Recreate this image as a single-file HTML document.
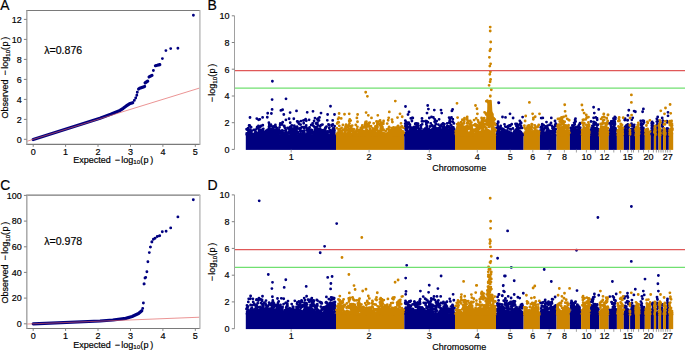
<!DOCTYPE html><html><head><meta charset="utf-8"><style>html,body{margin:0;padding:0;background:#fff;overflow:hidden}svg{display:block;}</style></head><body><svg width="685" height="350" viewBox="0 0 685 350" font-family="'Liberation Sans', sans-serif" fill="#000">
<style>text{stroke:#000;stroke-width:0.18px;paint-order:stroke}</style>
<rect width="685" height="350" fill="#fff"/>
<text x="0.2" y="9.6" font-size="13.8">A</text>
<clipPath id="clipA"><rect x="26.8" y="10.5" width="172.79999999999998" height="133.9"/></clipPath>
<g clip-path="url(#clipA)">
<path d="M33.2 139.5 L100.0 118.3 L110.7 114.3 L120.0 110.4 L123.2 108.3 L126.3 105.9 L129.5 103.8 L132.7 102.7M138.6 89.0 L139.6 88.3 L143.4 86.9 L144.6 86.5M145.1 82.9 L147.7 81.1M149.1 76.9 L152.0 75.4M155.4 65.7 L157.2 65.3 L159.8 64.6" fill="none" stroke="#000080" stroke-width="3.2" stroke-linecap="round" stroke-linejoin="round"/>
<path d="M134.3 100.4h0M135.7 98.0h0M136.8 95.2h0M137.3 92.2h0M153.4 70.5h0M162.4 58.6h0M165.9 50.6h0M170.7 48.6h0M177.9 48.2h0M193.4 15.2h0" fill="none" stroke="#000080" stroke-width="2.9" stroke-linecap="round"/>
<line x1="17.0" y1="144.35" x2="227.7" y2="79.37" stroke="#e05a5a" stroke-width="0.65"/>
</g>
<line x1="26.2" y1="10.5" x2="200.2" y2="10.5" stroke="#7a7a7a" stroke-width="1.1"/>
<line x1="26.2" y1="144.4" x2="200.2" y2="144.4" stroke="#7a7a7a" stroke-width="1.1"/>
<line x1="26.8" y1="10.5" x2="26.8" y2="144.4" stroke="#a8a8a8" stroke-width="1.5"/>
<line x1="199.9" y1="10.5" x2="199.9" y2="144.4" stroke="#bdbdbd" stroke-width="1.5"/>
<line x1="23.900000000000002" y1="139.3" x2="26.8" y2="139.3" stroke="#808080" stroke-width="1"/>
<text x="21.8" y="142.6" font-size="9" text-anchor="end">0</text>
<line x1="23.900000000000002" y1="119.4" x2="26.8" y2="119.4" stroke="#808080" stroke-width="1"/>
<text x="21.8" y="122.6" font-size="9" text-anchor="end">2</text>
<line x1="23.900000000000002" y1="99.4" x2="26.8" y2="99.4" stroke="#808080" stroke-width="1"/>
<text x="21.8" y="102.6" font-size="9" text-anchor="end">4</text>
<line x1="23.900000000000002" y1="79.4" x2="26.8" y2="79.4" stroke="#808080" stroke-width="1"/>
<text x="21.8" y="82.6" font-size="9" text-anchor="end">6</text>
<line x1="23.900000000000002" y1="59.4" x2="26.8" y2="59.4" stroke="#808080" stroke-width="1"/>
<text x="21.8" y="62.6" font-size="9" text-anchor="end">8</text>
<line x1="23.900000000000002" y1="39.4" x2="26.8" y2="39.4" stroke="#808080" stroke-width="1"/>
<text x="21.8" y="42.6" font-size="9" text-anchor="end">10</text>
<line x1="23.900000000000002" y1="19.4" x2="26.8" y2="19.4" stroke="#808080" stroke-width="1"/>
<text x="21.8" y="22.6" font-size="9" text-anchor="end">12</text>
<line x1="33.2" y1="144.4" x2="33.2" y2="146.8" stroke="#808080" stroke-width="1"/>
<text x="33.2" y="154.9" font-size="9" text-anchor="middle">0</text>
<line x1="65.6" y1="144.4" x2="65.6" y2="146.8" stroke="#808080" stroke-width="1"/>
<text x="65.6" y="154.9" font-size="9" text-anchor="middle">1</text>
<line x1="98.0" y1="144.4" x2="98.0" y2="146.8" stroke="#808080" stroke-width="1"/>
<text x="98.0" y="154.9" font-size="9" text-anchor="middle">2</text>
<line x1="130.5" y1="144.4" x2="130.5" y2="146.8" stroke="#808080" stroke-width="1"/>
<text x="130.5" y="154.9" font-size="9" text-anchor="middle">3</text>
<line x1="162.9" y1="144.4" x2="162.9" y2="146.8" stroke="#808080" stroke-width="1"/>
<text x="162.9" y="154.9" font-size="9" text-anchor="middle">4</text>
<line x1="195.3" y1="144.4" x2="195.3" y2="146.8" stroke="#808080" stroke-width="1"/>
<text x="195.3" y="154.9" font-size="9" text-anchor="middle">5</text>
<g><text x="73.16" y="162.70" font-size="9">Expected</text><text x="114.66" y="162.70" font-size="9">−</text><text x="121.20" y="162.70" font-size="9">log</text><text x="133.33" y="164.10" font-size="6.2">10</text><text x="140.14" y="162.70" font-size="9">(</text><text x="143.62" y="162.70" font-size="9">p</text><text x="150.25" y="162.70" font-size="9">)</text></g>
<g transform="translate(8.40 118.40) rotate(-90)"><text x="0.00" y="0.00" font-size="9">Observed</text><text x="43.00" y="0.00" font-size="9">−</text><text x="49.54" y="0.00" font-size="9">log</text><text x="61.67" y="1.40" font-size="6.2">10</text><text x="68.48" y="0.00" font-size="9">(</text><text x="71.96" y="0.00" font-size="9">p</text><text x="78.59" y="0.00" font-size="9">)</text></g>
<text x="44.2" y="53.9" font-size="10.6">λ=0.876</text>
<text x="0.2" y="189.6" font-size="13.8">C</text>
<clipPath id="clipC"><rect x="26.8" y="195.1" width="172.79999999999998" height="133.4"/></clipPath>
<g clip-path="url(#clipC)">
<path d="M33.2 323.8 L100.0 321.0 L112.8 320.0 L125.7 318.4 L132.1 316.5 L138.5 313.5 L141.8 310.7" fill="none" stroke="#000080" stroke-width="3.2" stroke-linecap="round" stroke-linejoin="round"/>
<path d="M142.7 308.4h0M143.4 303.0h0M144.0 284.0h0M144.2 283.9h0M145.0 278.0h0M145.7 277.4h0M146.9 271.7h0M147.9 261.7h0M149.3 252.6h0M150.4 247.1h0M151.9 242.0h0M150.5 247.1h0M151.8 241.9h0M153.4 239.2h0M155.1 238.3h0M157.3 236.5h0M159.7 235.8h0M162.3 231.8h0M166.1 231.3h0M170.7 227.9h0M177.9 216.9h0M193.3 199.8h0" fill="none" stroke="#000080" stroke-width="2.9" stroke-linecap="round"/>
<line x1="17.0" y1="324.44" x2="227.7" y2="316.10" stroke="#e05a5a" stroke-width="0.65"/>
</g>
<line x1="26.2" y1="195.1" x2="200.2" y2="195.1" stroke="#7a7a7a" stroke-width="1.1"/>
<line x1="26.2" y1="328.5" x2="200.2" y2="328.5" stroke="#7a7a7a" stroke-width="1.1"/>
<line x1="26.8" y1="195.1" x2="26.8" y2="328.5" stroke="#a8a8a8" stroke-width="1.5"/>
<line x1="199.9" y1="195.1" x2="199.9" y2="328.5" stroke="#bdbdbd" stroke-width="1.5"/>
<line x1="23.900000000000002" y1="323.8" x2="26.8" y2="323.8" stroke="#808080" stroke-width="1"/>
<text x="21.8" y="327.1" font-size="9" text-anchor="end">0</text>
<line x1="23.900000000000002" y1="298.1" x2="26.8" y2="298.1" stroke="#808080" stroke-width="1"/>
<text x="21.8" y="301.4" font-size="9" text-anchor="end">20</text>
<line x1="23.900000000000002" y1="272.4" x2="26.8" y2="272.4" stroke="#808080" stroke-width="1"/>
<text x="21.8" y="275.7" font-size="9" text-anchor="end">40</text>
<line x1="23.900000000000002" y1="246.8" x2="26.8" y2="246.8" stroke="#808080" stroke-width="1"/>
<text x="21.8" y="250.0" font-size="9" text-anchor="end">60</text>
<line x1="23.900000000000002" y1="221.1" x2="26.8" y2="221.1" stroke="#808080" stroke-width="1"/>
<text x="21.8" y="224.3" font-size="9" text-anchor="end">80</text>
<line x1="23.900000000000002" y1="195.4" x2="26.8" y2="195.4" stroke="#808080" stroke-width="1"/>
<text x="21.8" y="198.7" font-size="9" text-anchor="end">100</text>
<line x1="33.2" y1="328.5" x2="33.2" y2="330.9" stroke="#808080" stroke-width="1"/>
<text x="33.2" y="339.0" font-size="9" text-anchor="middle">0</text>
<line x1="65.6" y1="328.5" x2="65.6" y2="330.9" stroke="#808080" stroke-width="1"/>
<text x="65.6" y="339.0" font-size="9" text-anchor="middle">1</text>
<line x1="98.0" y1="328.5" x2="98.0" y2="330.9" stroke="#808080" stroke-width="1"/>
<text x="98.0" y="339.0" font-size="9" text-anchor="middle">2</text>
<line x1="130.5" y1="328.5" x2="130.5" y2="330.9" stroke="#808080" stroke-width="1"/>
<text x="130.5" y="339.0" font-size="9" text-anchor="middle">3</text>
<line x1="162.9" y1="328.5" x2="162.9" y2="330.9" stroke="#808080" stroke-width="1"/>
<text x="162.9" y="339.0" font-size="9" text-anchor="middle">4</text>
<line x1="195.3" y1="328.5" x2="195.3" y2="330.9" stroke="#808080" stroke-width="1"/>
<text x="195.3" y="339.0" font-size="9" text-anchor="middle">5</text>
<g><text x="73.16" y="347.90" font-size="9">Expected</text><text x="114.66" y="347.90" font-size="9">−</text><text x="121.20" y="347.90" font-size="9">log</text><text x="133.33" y="349.30" font-size="6.2">10</text><text x="140.14" y="347.90" font-size="9">(</text><text x="143.62" y="347.90" font-size="9">p</text><text x="150.25" y="347.90" font-size="9">)</text></g>
<g transform="translate(8.40 303.40) rotate(-90)"><text x="0.00" y="0.00" font-size="9">Observed</text><text x="43.00" y="0.00" font-size="9">−</text><text x="49.54" y="0.00" font-size="9">log</text><text x="61.67" y="1.40" font-size="6.2">10</text><text x="68.48" y="0.00" font-size="9">(</text><text x="71.96" y="0.00" font-size="9">p</text><text x="78.59" y="0.00" font-size="9">)</text></g>
<text x="44.2" y="245.0" font-size="10.6">λ=0.978</text>
<text x="207.6" y="9.8" font-size="14">B</text>
<rect x="245.8" y="134.1" width="90.2" height="15.8" fill="#000080"/>
<rect x="336.0" y="134.1" width="68.3" height="15.8" fill="#CD8500"/>
<rect x="404.3" y="134.1" width="50.7" height="15.8" fill="#000080"/>
<rect x="455.0" y="134.1" width="41.0" height="15.8" fill="#CD8500"/>
<rect x="496.0" y="134.1" width="27.6" height="15.8" fill="#000080"/>
<rect x="523.6" y="134.1" width="16.3" height="15.8" fill="#CD8500"/>
<rect x="539.9" y="134.1" width="16.6" height="15.8" fill="#000080"/>
<rect x="556.5" y="134.1" width="13.4" height="15.8" fill="#CD8500"/>
<rect x="569.9" y="134.1" width="11.2" height="15.8" fill="#000080"/>
<rect x="581.1" y="134.1" width="8.9" height="15.8" fill="#CD8500"/>
<rect x="590.0" y="134.1" width="9.2" height="15.8" fill="#000080"/>
<rect x="599.2" y="134.1" width="9.5" height="15.8" fill="#CD8500"/>
<rect x="608.7" y="134.1" width="8.2" height="15.8" fill="#000080"/>
<rect x="616.9" y="134.1" width="6.9" height="15.8" fill="#CD8500"/>
<rect x="623.8" y="134.1" width="5.5" height="15.8" fill="#000080"/>
<rect x="629.3" y="134.1" width="0.8" height="15.8" fill="#CD8500"/>
<rect x="630.1" y="134.1" width="4.9" height="15.8" fill="#000080"/>
<rect x="635.0" y="134.1" width="4.9" height="15.8" fill="#CD8500"/>
<rect x="639.9" y="134.1" width="4.9" height="15.8" fill="#000080"/>
<rect x="644.8" y="134.1" width="6.0" height="15.8" fill="#CD8500"/>
<rect x="650.8" y="134.1" width="3.1" height="15.8" fill="#000080"/>
<rect x="653.9" y="134.1" width="2.2" height="15.8" fill="#CD8500"/>
<rect x="656.1" y="134.1" width="2.4" height="15.8" fill="#000080"/>
<rect x="658.5" y="134.1" width="2.6" height="15.8" fill="#CD8500"/>
<rect x="661.1" y="134.1" width="2.0" height="15.8" fill="#000080"/>
<rect x="663.1" y="134.1" width="2.9" height="15.8" fill="#CD8500"/>
<rect x="666.0" y="134.1" width="2.8" height="15.8" fill="#000080"/>
<rect x="668.8" y="134.1" width="4.4" height="15.8" fill="#CD8500"/>
<path d="M321.8 134.8h0M269.1 129.2h0M286.4 132.5h0M316.6 130.9h0M248.9 135.0h0M284.9 127.7h0M246.6 129.2h0M310.6 132.9h0M330.5 134.3h0M249.1 125.5h0M294.6 135.3h0M280.3 123.4h0M284.0 134.4h0M266.1 135.3h0M290.5 132.9h0M266.9 134.3h0M287.3 134.4h0M248.3 133.9h0M295.9 127.6h0M262.9 131.0h0M257.2 127.0h0M310.6 133.7h0M329.7 130.1h0M320.3 133.1h0M273.4 130.6h0M324.9 131.6h0M291.4 127.4h0M249.5 131.6h0M317.4 134.2h0M261.8 133.1h0M309.0 132.0h0M279.7 130.6h0M291.6 132.9h0M292.8 128.9h0M290.0 133.3h0M250.3 135.3h0M333.9 130.2h0M281.4 131.6h0M291.1 134.6h0M315.0 118.1h0M323.0 132.1h0M292.1 134.3h0M297.8 122.3h0M270.4 132.8h0M331.6 132.0h0M316.1 135.4h0M325.3 128.0h0M318.4 129.6h0M296.4 132.3h0M251.4 133.0h0M297.1 126.6h0M291.3 134.5h0M278.2 132.6h0M294.3 133.6h0M300.9 131.2h0M248.9 132.8h0M262.2 134.3h0M323.0 131.6h0M317.3 128.5h0M269.1 128.1h0M306.3 127.5h0M247.9 135.0h0M313.6 135.4h0M256.1 134.2h0M277.1 131.2h0M260.6 135.1h0M261.4 132.2h0M309.7 134.0h0M275.1 132.8h0M248.5 132.7h0M283.9 133.3h0M256.1 134.5h0M291.8 125.5h0M300.3 134.4h0M248.3 128.1h0M259.4 135.3h0M260.7 130.0h0M306.8 130.2h0M266.0 132.0h0M317.4 119.5h0M266.3 132.3h0M281.5 130.9h0M275.0 131.7h0M251.6 131.1h0M332.5 133.9h0M273.7 126.5h0M274.0 127.0h0M312.6 123.4h0M268.9 133.1h0M324.6 135.4h0M319.3 135.2h0M297.2 121.3h0M323.6 134.6h0M309.1 119.8h0M280.0 132.4h0M264.7 133.6h0M284.9 130.6h0M255.7 134.5h0M272.8 130.7h0M275.4 132.4h0M326.5 126.6h0M264.3 135.3h0M334.2 133.7h0M276.6 128.9h0M306.4 134.4h0M329.4 127.6h0M324.9 133.6h0M289.5 130.4h0M267.3 117.2h0M253.9 129.9h0M327.5 134.6h0M314.0 134.4h0M321.3 131.5h0M276.7 133.4h0M323.6 133.9h0M331.3 131.4h0M258.4 126.0h0M255.7 132.0h0M252.9 135.2h0M316.5 126.8h0M276.7 127.8h0M316.0 131.3h0M297.2 133.4h0M253.7 134.3h0M325.7 134.1h0M328.7 131.8h0M271.1 132.8h0M320.1 128.8h0M306.1 135.4h0M256.6 135.0h0M250.0 126.1h0M334.3 134.2h0M256.7 133.1h0M267.9 134.6h0M255.6 129.6h0M280.1 125.0h0M327.3 120.3h0M269.0 133.9h0M255.3 132.6h0M249.9 130.9h0M333.8 135.4h0M299.5 133.9h0M274.3 132.8h0M327.7 135.1h0M332.7 120.4h0M265.6 134.9h0M333.6 131.3h0M307.6 132.1h0M269.5 130.8h0M273.8 132.1h0M253.6 134.2h0M333.9 134.0h0M304.4 132.9h0M330.1 131.0h0M273.7 133.3h0M274.6 133.7h0M325.9 127.3h0M276.2 133.9h0M297.9 132.0h0M268.2 131.5h0M268.1 135.3h0M295.5 135.1h0M253.1 135.1h0M272.3 131.1h0M290.3 128.7h0M260.1 126.9h0M317.2 132.4h0M330.9 135.1h0M315.5 134.6h0M319.5 117.4h0M255.9 133.8h0M328.2 132.3h0M325.9 133.9h0M327.4 134.8h0M274.5 135.3h0M317.9 125.4h0M321.2 125.2h0M307.8 129.5h0M284.9 134.6h0M310.0 134.7h0M268.9 130.7h0M332.1 135.1h0M295.3 128.3h0M322.2 132.1h0M281.6 132.8h0M269.4 133.6h0M303.9 135.3h0M297.2 133.1h0M278.0 135.1h0M257.5 134.8h0M320.2 134.1h0M282.1 133.2h0M267.2 131.3h0M293.5 135.4h0M304.1 132.4h0M307.5 132.9h0M267.6 129.8h0M289.0 132.5h0M283.1 134.3h0M327.1 131.9h0M270.9 124.7h0M250.7 130.9h0M291.9 135.1h0M260.6 126.4h0M325.0 129.2h0M308.0 133.8h0M279.5 127.3h0M311.9 130.2h0M322.6 131.5h0M331.8 125.7h0M262.1 131.8h0M265.8 134.2h0M313.8 131.8h0M307.1 135.2h0M277.4 130.0h0M261.1 132.3h0M250.0 129.8h0M318.3 118.3h0M270.2 131.2h0M331.8 124.9h0M315.4 134.8h0M305.1 127.5h0M286.0 130.2h0M332.8 124.3h0M317.8 133.3h0M261.1 133.0h0M257.6 133.7h0M331.8 125.1h0M299.9 134.9h0M256.9 133.2h0M268.5 133.9h0M246.8 129.5h0M285.5 134.5h0M302.2 135.3h0M320.7 131.4h0M271.7 134.4h0M270.7 132.1h0M268.7 131.6h0M316.8 130.5h0M333.1 128.3h0M290.1 132.0h0M314.8 127.1h0M280.5 131.8h0M256.0 134.0h0M256.9 128.3h0M294.9 129.5h0M314.1 121.0h0M258.6 119.8h0M297.4 132.4h0M291.2 133.8h0M293.4 133.5h0M285.8 135.4h0M273.5 132.8h0M316.1 133.2h0M290.2 130.5h0M280.0 130.9h0M246.7 134.4h0M299.6 134.0h0M320.2 126.2h0M334.2 132.3h0M320.7 132.8h0M312.7 133.2h0M261.6 133.8h0M293.7 131.3h0M246.7 133.5h0M284.3 133.3h0M323.1 133.2h0M311.7 131.6h0M313.0 125.6h0M312.8 132.5h0M304.1 131.0h0M282.6 131.1h0M302.8 131.2h0M316.0 123.5h0M314.7 127.4h0M300.3 128.2h0M269.9 133.6h0M324.2 130.1h0M259.9 132.0h0M289.5 127.7h0M250.4 132.7h0M312.7 132.3h0M278.0 133.1h0M248.2 130.8h0M330.6 132.4h0M282.2 130.4h0M300.2 130.4h0M264.9 134.4h0M270.3 126.1h0M320.3 135.1h0M279.2 132.2h0M312.0 132.3h0M304.5 134.6h0M318.9 130.0h0M300.7 134.1h0M296.3 134.3h0M316.7 134.6h0M275.7 126.8h0M332.2 134.3h0M321.5 130.1h0M326.4 135.3h0M274.6 131.2h0M314.2 133.0h0M263.3 128.8h0M261.1 131.2h0M285.9 119.9h0M311.2 124.9h0M269.7 131.4h0M258.7 132.2h0M310.1 134.8h0M313.3 133.5h0M310.3 134.2h0M273.6 130.0h0M281.7 134.9h0M255.3 132.5h0M251.3 134.5h0M325.5 131.5h0M249.5 134.4h0M318.9 130.2h0M301.0 121.1h0M321.0 133.6h0M308.0 134.9h0M282.0 135.0h0M280.0 132.5h0M267.0 134.6h0M287.6 128.0h0M265.3 131.7h0M275.8 130.0h0M327.3 131.5h0M317.4 135.2h0M274.8 127.0h0M298.0 133.3h0M282.0 124.6h0M313.9 126.3h0M327.7 134.7h0M259.3 135.3h0M251.5 130.7h0M258.0 133.4h0M321.2 132.7h0M249.6 125.3h0M321.2 135.1h0M270.7 135.2h0M254.5 134.9h0M303.1 135.3h0M307.5 129.6h0M305.4 127.4h0M302.6 133.3h0M303.5 120.4h0M251.8 134.2h0M299.0 123.7h0M300.3 133.6h0M292.9 131.9h0M277.8 135.1h0M264.1 133.1h0M284.1 126.3h0M309.9 130.7h0M310.6 129.6h0M268.8 129.4h0M259.8 119.3h0M322.5 124.6h0M251.1 127.2h0M318.8 135.0h0M279.4 132.7h0M250.0 117.5h0M285.9 132.2h0M281.6 134.8h0M324.9 130.1h0M293.1 135.3h0M317.6 135.0h0M249.4 135.0h0M311.6 133.3h0M258.0 133.8h0M318.2 128.6h0M273.4 127.1h0M268.2 133.0h0M275.8 131.9h0M316.1 133.6h0M298.4 122.0h0M304.5 134.9h0M334.3 132.9h0M320.7 130.0h0M294.1 130.2h0M320.4 125.7h0M260.4 133.9h0M292.8 133.4h0M277.1 135.0h0M250.3 131.7h0M304.3 128.2h0M273.0 133.8h0M275.4 133.5h0M291.0 129.5h0M259.6 132.2h0M275.4 124.9h0M252.5 133.7h0M289.1 118.7h0M329.0 124.9h0M319.0 120.4h0M328.5 124.3h0M258.4 128.5h0M297.6 132.2h0M309.0 128.8h0M278.6 129.5h0M303.7 123.2h0M287.7 133.2h0M293.8 118.7h0M259.6 134.6h0M296.5 130.4h0M262.8 125.2h0M311.2 133.1h0M255.2 135.2h0M270.0 132.0h0M269.7 134.9h0M293.2 131.1h0M252.9 135.1h0M303.6 127.2h0M323.1 134.6h0M279.2 135.3h0M309.6 127.3h0M325.7 134.0h0M323.4 131.5h0M284.3 125.8h0M294.9 130.6h0M317.4 123.0h0M318.8 129.9h0M264.3 134.1h0M315.0 129.5h0M289.7 132.3h0M325.0 133.2h0M298.4 128.6h0M322.2 135.2h0M263.3 132.8h0M307.9 133.9h0M257.1 135.4h0M325.4 133.9h0M332.8 129.5h0M297.3 132.1h0M293.2 132.0h0M319.3 132.1h0M282.7 122.2h0M273.8 131.1h0M291.5 133.9h0M295.3 131.6h0M261.0 126.0h0M260.5 130.1h0M261.9 129.8h0M305.6 119.2h0M305.6 120.2h0M306.3 120.8h0M305.9 126.5h0M305.4 127.1h0M306.2 125.3h0M283.7 133.1h0M269.3 124.8h0M271.2 129.0h0M269.6 125.7h0M269.0 126.7h0M268.9 122.7h0M290.2 131.4h0M290.5 130.7h0M290.1 132.7h0M289.0 128.8h0M290.3 126.8h0M290.2 122.7h0M300.6 124.6h0M301.9 127.2h0M300.4 131.1h0M300.2 124.4h0M301.1 130.8h0M300.7 128.4h0M317.4 122.6h0M317.3 123.8h0M317.1 123.9h0M315.9 128.5h0M316.8 131.1h0M322.5 132.5h0M292.6 129.2h0M292.6 128.9h0M326.4 131.6h0M325.6 128.5h0M326.3 133.3h0M334.6 126.1h0M334.2 128.7h0M334.3 129.4h0M266.0 130.9h0M267.1 131.8h0M296.5 126.8h0M296.1 129.3h0M296.1 130.0h0M271.5 130.5h0M271.8 128.8h0M271.2 129.8h0M271.2 125.7h0M307.8 132.8h0M308.7 129.2h0M308.4 128.4h0M290.1 132.7h0M290.3 132.6h0M294.5 128.0h0M294.4 127.0h0M294.6 127.9h0M294.3 125.6h0M248.4 131.0h0M248.5 132.9h0M334.5 130.8h0M334.3 131.1h0M259.0 130.9h0M259.1 131.1h0M310.9 132.6h0M270.8 133.3h0M329.7 131.0h0M329.2 127.9h0M329.9 130.4h0M330.1 130.1h0M330.0 130.8h0M323.3 130.1h0M323.3 130.6h0M293.7 129.4h0M293.6 133.0h0M426.8 126.0h0M409.9 124.5h0M428.1 135.1h0M427.9 122.2h0M413.0 131.9h0M426.0 131.6h0M441.6 124.6h0M412.3 132.2h0M453.0 134.6h0M416.0 130.7h0M415.6 127.2h0M448.3 132.4h0M410.0 134.9h0M412.4 135.1h0M420.8 133.1h0M405.6 133.8h0M426.9 132.1h0M419.9 128.7h0M420.4 131.1h0M413.5 128.5h0M427.0 132.1h0M431.5 132.4h0M420.6 131.6h0M452.0 126.8h0M436.4 131.4h0M420.7 129.0h0M427.8 131.0h0M424.4 132.1h0M415.7 131.6h0M414.8 134.0h0M417.0 130.9h0M449.7 127.9h0M421.1 128.4h0M421.9 121.3h0M434.4 133.2h0M425.1 130.1h0M447.1 127.8h0M416.0 133.7h0M439.5 132.9h0M413.6 129.9h0M449.5 133.0h0M434.8 119.5h0M446.5 127.9h0M408.2 134.2h0M423.9 130.7h0M419.4 129.3h0M444.9 132.6h0M425.1 134.9h0M431.3 134.6h0M453.8 128.9h0M412.0 128.5h0M431.7 132.6h0M439.6 130.4h0M451.5 117.5h0M412.7 134.3h0M412.8 118.0h0M410.8 118.3h0M411.3 131.1h0M421.4 134.7h0M439.7 127.6h0M411.7 133.5h0M413.5 133.2h0M429.5 134.1h0M450.6 132.1h0M431.3 134.9h0M412.0 131.3h0M411.7 133.2h0M422.2 124.3h0M428.4 135.1h0M448.8 131.7h0M415.1 129.1h0M405.2 123.6h0M407.0 129.5h0M414.3 126.9h0M445.2 127.5h0M410.4 128.1h0M410.1 132.9h0M454.1 129.1h0M437.2 131.8h0M412.0 130.0h0M422.2 133.1h0M425.3 128.5h0M432.1 133.1h0M408.1 134.3h0M405.9 134.1h0M427.5 129.9h0M433.0 130.7h0M445.2 135.1h0M405.3 127.0h0M443.8 132.6h0M447.5 132.8h0M437.6 129.5h0M443.5 123.7h0M407.2 131.1h0M439.0 132.4h0M433.8 131.7h0M446.5 133.3h0M436.6 134.0h0M412.3 132.6h0M411.3 135.3h0M428.3 133.7h0M408.2 135.3h0M453.4 127.5h0M428.2 132.6h0M409.7 130.8h0M438.3 131.6h0M436.7 121.1h0M425.2 131.5h0M430.8 123.4h0M441.2 132.2h0M408.2 132.6h0M447.8 131.0h0M409.7 133.1h0M449.8 134.9h0M437.3 134.8h0M430.3 135.0h0M416.5 123.4h0M435.2 133.6h0M432.6 131.2h0M406.9 133.0h0M418.6 130.9h0M426.6 130.6h0M454.2 133.9h0M453.0 133.5h0M431.3 132.2h0M413.5 133.9h0M427.4 129.4h0M413.9 131.1h0M437.5 131.9h0M437.9 128.4h0M438.8 132.8h0M428.5 130.9h0M420.1 130.5h0M412.2 135.1h0M449.1 117.6h0M417.7 126.7h0M444.0 126.4h0M419.9 131.6h0M454.3 134.9h0M427.0 126.0h0M450.0 128.9h0M411.1 131.5h0M431.5 116.9h0M435.7 128.1h0M427.8 135.1h0M418.1 135.4h0M439.1 119.3h0M410.4 131.3h0M434.9 129.7h0M439.0 130.4h0M427.0 122.4h0M431.1 130.7h0M438.5 131.0h0M407.6 134.4h0M407.0 134.8h0M420.0 131.4h0M412.9 127.8h0M447.7 134.6h0M422.4 134.9h0M432.8 129.6h0M411.6 133.9h0M417.2 131.1h0M418.0 125.8h0M406.0 122.0h0M418.9 130.7h0M426.5 132.2h0M414.1 127.2h0M406.6 128.2h0M445.7 130.4h0M446.9 132.6h0M422.5 133.2h0M453.9 123.4h0M416.3 127.7h0M423.0 121.3h0M420.8 125.4h0M417.7 134.2h0M453.4 129.6h0M410.2 131.8h0M449.4 129.7h0M405.0 127.9h0M443.3 133.6h0M454.2 129.4h0M444.4 124.1h0M423.7 129.6h0M442.9 135.2h0M447.7 132.4h0M447.3 134.7h0M448.8 130.3h0M426.5 129.4h0M409.8 131.8h0M433.4 134.0h0M422.6 134.4h0M434.3 130.3h0M426.3 124.3h0M425.8 131.4h0M435.9 128.5h0M411.9 121.0h0M419.4 134.7h0M436.5 130.7h0M418.3 134.3h0M418.0 130.9h0M410.2 126.6h0M412.5 127.9h0M443.6 129.2h0M449.6 121.2h0M437.6 135.3h0M443.0 123.5h0M442.0 132.4h0M444.7 133.8h0M453.0 132.8h0M433.7 135.3h0M442.8 134.7h0M429.3 118.0h0M416.4 126.3h0M444.7 135.3h0M409.1 132.8h0M449.5 129.9h0M435.1 135.0h0M407.0 133.3h0M407.1 135.0h0M420.1 133.6h0M435.6 131.6h0M447.3 126.0h0M436.0 134.5h0M417.3 125.1h0M453.8 130.8h0M439.6 130.4h0M454.0 133.6h0M420.9 126.6h0M405.1 133.6h0M448.1 132.2h0M412.2 127.8h0M412.9 134.0h0M414.9 133.9h0M432.3 134.5h0M447.2 123.3h0M420.6 130.6h0M415.3 123.6h0M415.6 135.2h0M439.6 127.7h0M415.8 133.6h0M430.2 130.4h0M427.0 127.6h0M408.4 135.0h0M430.8 134.1h0M432.4 129.2h0M452.1 135.4h0M431.6 132.4h0M416.9 134.4h0M434.9 134.2h0M418.0 123.6h0M419.1 133.3h0M405.4 135.3h0M453.3 127.9h0M408.7 135.2h0M420.0 132.4h0M448.0 134.0h0M414.5 134.4h0M435.7 123.7h0M438.0 129.7h0M453.3 135.3h0M416.2 135.3h0M446.4 132.2h0M405.3 120.6h0M405.7 134.7h0M450.1 134.7h0M431.6 135.0h0M405.3 134.3h0M417.7 133.8h0M448.2 131.5h0M431.3 131.7h0M413.8 133.8h0M424.4 132.2h0M415.2 123.9h0M407.5 135.3h0M415.7 133.5h0M448.5 132.9h0M434.3 129.0h0M448.4 126.6h0M439.0 135.1h0M425.2 134.7h0M418.3 133.0h0M414.5 135.2h0M452.3 129.3h0M406.0 123.5h0M414.3 131.2h0M431.3 131.8h0M409.3 134.5h0M407.5 132.2h0M448.9 126.3h0M444.5 135.3h0M406.9 126.4h0M428.4 131.0h0M445.4 134.5h0M445.1 131.3h0M452.9 121.9h0M448.1 130.0h0M421.6 135.1h0M430.3 132.2h0M445.3 133.1h0M446.8 131.1h0M451.5 132.5h0M454.1 133.2h0M423.6 131.3h0M410.2 130.6h0M434.6 129.7h0M408.6 127.3h0M433.9 132.7h0M442.6 135.1h0M435.9 124.0h0M451.6 128.3h0M430.2 132.4h0M438.4 124.6h0M434.1 133.8h0M446.7 128.2h0M413.2 134.7h0M440.3 129.7h0M429.1 128.9h0M452.4 133.0h0M419.1 134.0h0M409.1 135.3h0M437.7 130.6h0M441.5 134.2h0M423.3 134.5h0M443.4 130.4h0M444.9 132.4h0M437.8 132.3h0M432.8 126.5h0M451.1 131.3h0M405.8 135.2h0M420.3 135.2h0M435.5 131.6h0M405.7 129.8h0M416.7 125.2h0M422.0 118.5h0M440.2 126.2h0M430.2 135.3h0M454.1 132.9h0M424.5 134.1h0M405.1 134.5h0M435.6 131.6h0M446.4 134.5h0M451.3 134.2h0M453.0 129.9h0M446.4 132.6h0M440.3 130.8h0M430.2 132.8h0M421.6 133.8h0M408.8 122.6h0M442.0 126.6h0M426.2 134.5h0M430.1 126.5h0M429.8 131.9h0M453.9 134.5h0M419.0 128.6h0M439.9 133.3h0M432.2 125.3h0M422.7 133.7h0M448.8 131.5h0M416.1 129.4h0M437.4 135.3h0M448.3 133.9h0M454.2 134.5h0M417.4 127.4h0M445.5 135.3h0M412.4 134.8h0M413.4 133.0h0M432.1 134.9h0M443.8 130.1h0M407.4 135.1h0M441.6 132.2h0M434.4 134.3h0M449.4 134.8h0M451.2 125.2h0M409.0 133.0h0M426.7 127.0h0M426.1 133.3h0M440.9 129.3h0M418.1 132.6h0M407.5 134.6h0M452.8 119.2h0M434.3 135.1h0M433.4 117.5h0M412.1 117.9h0M446.5 129.1h0M415.0 134.8h0M416.4 126.8h0M416.6 128.0h0M416.2 127.2h0M411.9 130.9h0M411.8 132.9h0M422.6 131.2h0M426.2 121.1h0M426.6 121.3h0M426.3 122.7h0M425.5 121.2h0M425.8 130.1h0M405.4 132.9h0M431.3 130.2h0M431.7 130.4h0M410.7 132.0h0M410.0 130.0h0M407.0 127.3h0M406.5 130.2h0M405.5 125.4h0M405.9 126.9h0M442.7 130.1h0M442.3 130.4h0M406.9 127.4h0M407.3 125.0h0M407.2 124.5h0M407.7 123.3h0M407.6 122.8h0M442.9 128.0h0M443.5 132.9h0M443.3 127.0h0M434.7 130.6h0M435.1 125.9h0M434.6 121.8h0M434.8 129.4h0M434.5 127.9h0M451.5 132.4h0M451.7 128.9h0M449.4 122.5h0M450.0 123.3h0M449.7 118.8h0M450.3 121.6h0M450.0 120.7h0M449.8 122.9h0M512.0 134.7h0M509.9 134.4h0M508.9 125.6h0M504.5 124.3h0M515.3 134.8h0M514.3 133.0h0M508.1 131.7h0M502.4 133.5h0M508.8 134.4h0M518.2 125.8h0M513.1 118.0h0M519.5 134.0h0M521.5 135.1h0M514.6 132.9h0M510.3 125.8h0M518.7 128.0h0M520.7 132.4h0M500.7 134.2h0M518.4 130.1h0M497.4 133.1h0M502.5 133.0h0M501.0 135.1h0M506.6 131.5h0M502.4 128.6h0M503.7 131.4h0M500.6 134.0h0M504.0 129.6h0M514.8 130.6h0M514.1 131.9h0M499.2 130.5h0M510.3 129.1h0M499.5 128.2h0M513.7 135.2h0M522.6 133.8h0M508.5 133.8h0M511.4 133.6h0M522.0 134.4h0M520.9 134.0h0M505.5 117.4h0M520.3 128.1h0M522.2 135.3h0M505.5 133.3h0M501.0 128.4h0M522.2 135.3h0M513.4 135.3h0M507.7 131.8h0M518.1 127.9h0M512.9 135.3h0M506.9 127.0h0M511.8 134.8h0M506.7 135.3h0M502.3 132.4h0M518.5 131.6h0M510.9 132.7h0M496.8 134.5h0M503.2 132.7h0M499.3 131.1h0M510.2 132.8h0M498.0 128.8h0M500.7 126.0h0M518.0 124.7h0M521.0 125.9h0M506.2 135.0h0M505.3 131.6h0M519.6 130.8h0M505.0 134.4h0M505.3 126.6h0M516.3 135.0h0M512.0 133.9h0M511.5 135.1h0M508.3 128.2h0M516.9 133.5h0M509.1 132.2h0M514.5 134.6h0M496.6 127.8h0M513.8 133.8h0M519.3 134.7h0M503.0 134.8h0M500.2 132.8h0M510.0 125.3h0M512.7 133.3h0M511.0 129.5h0M514.6 131.0h0M504.0 133.0h0M514.1 134.8h0M521.8 133.4h0M517.3 134.0h0M500.7 132.9h0M513.2 133.3h0M505.8 130.6h0M500.7 134.3h0M514.5 131.6h0M509.5 125.5h0M517.7 133.7h0M515.7 131.1h0M518.3 135.1h0M514.3 133.3h0M496.6 135.1h0M498.6 135.3h0M519.3 135.0h0M498.2 132.0h0M514.6 133.0h0M506.0 130.8h0M522.1 127.9h0M506.0 133.1h0M518.6 133.1h0M499.3 132.4h0M514.1 135.4h0M516.8 134.7h0M502.2 131.5h0M514.3 135.1h0M522.5 134.7h0M505.2 132.3h0M512.9 128.4h0M517.4 130.8h0M497.8 132.8h0M522.8 134.7h0M497.2 131.2h0M499.4 134.7h0M513.9 134.1h0M511.7 124.2h0M520.9 132.4h0M520.3 134.8h0M502.8 131.0h0M501.2 129.1h0M508.7 131.6h0M521.3 134.9h0M506.3 134.5h0M503.7 131.1h0M504.5 135.0h0M517.9 133.4h0M520.9 132.0h0M518.4 134.8h0M522.6 117.1h0M499.3 133.9h0M508.7 132.2h0M508.1 126.1h0M508.1 133.3h0M506.9 130.7h0M506.9 131.7h0M517.0 131.9h0M517.2 127.8h0M516.5 129.2h0M498.2 121.7h0M498.1 127.3h0M497.3 124.0h0M498.3 122.6h0M497.6 125.5h0M506.0 130.9h0M506.7 132.5h0M515.5 123.8h0M515.6 124.2h0M516.8 123.9h0M516.4 125.9h0M518.8 131.8h0M517.3 129.8h0M520.0 121.3h0M520.1 124.2h0M521.1 122.9h0M519.8 120.8h0M521.2 123.0h0M520.7 122.3h0M552.7 131.2h0M547.6 130.3h0M547.1 132.5h0M555.0 135.1h0M541.4 133.5h0M546.4 134.9h0M548.2 129.7h0M554.5 133.6h0M544.6 135.1h0M547.7 125.6h0M541.7 132.6h0M551.7 131.3h0M542.2 127.1h0M553.1 131.6h0M541.9 125.3h0M554.5 134.7h0M547.0 133.2h0M543.9 129.4h0M549.1 134.7h0M554.9 131.0h0M550.4 134.9h0M549.5 134.8h0M546.9 130.7h0M546.9 133.1h0M553.6 127.5h0M552.0 132.7h0M547.3 132.8h0M549.9 131.0h0M547.9 132.6h0M545.6 126.4h0M542.7 130.9h0M541.2 118.1h0M543.1 128.5h0M540.6 130.5h0M541.1 133.6h0M550.0 132.9h0M549.0 135.3h0M553.9 133.1h0M540.9 133.1h0M554.0 134.2h0M546.5 132.4h0M544.9 133.7h0M549.2 134.7h0M542.7 134.7h0M544.1 134.7h0M543.6 125.2h0M555.1 135.3h0M555.4 132.3h0M547.7 128.4h0M540.5 132.9h0M544.2 132.9h0M553.7 133.2h0M555.0 131.0h0M553.6 128.7h0M548.4 134.9h0M552.5 127.5h0M547.1 127.6h0M548.5 134.8h0M552.2 131.6h0M554.3 133.3h0M552.0 125.9h0M555.7 129.2h0M545.9 135.0h0M547.0 132.8h0M547.3 130.3h0M540.9 133.3h0M548.0 135.2h0M544.1 133.6h0M541.7 135.3h0M547.8 134.5h0M547.6 134.2h0M541.7 129.3h0M552.2 130.9h0M555.8 124.7h0M541.2 134.5h0M548.9 130.6h0M549.7 124.7h0M540.7 127.5h0M543.6 132.5h0M541.6 134.5h0M546.5 122.1h0M552.4 128.1h0M545.2 127.9h0M547.5 128.8h0M551.0 123.0h0M555.2 125.0h0M546.0 133.4h0M553.3 135.4h0M543.0 131.0h0M555.0 131.0h0M555.8 123.6h0M544.4 133.5h0M542.7 135.4h0M550.2 134.1h0M554.8 135.4h0M553.7 130.7h0M548.6 133.9h0M542.2 124.2h0M542.8 135.0h0M544.4 133.1h0M546.6 131.5h0M547.3 131.0h0M555.3 125.6h0M555.8 126.0h0M555.9 125.7h0M555.0 121.0h0M555.0 130.5h0M540.7 132.8h0M543.8 133.1h0M543.5 130.5h0M574.2 127.4h0M580.0 123.2h0M571.3 130.4h0M572.7 134.1h0M574.0 130.5h0M578.2 132.5h0M570.8 134.9h0M577.0 134.0h0M579.8 134.0h0M576.0 131.5h0M571.1 131.7h0M576.4 130.1h0M573.8 129.0h0M574.7 124.0h0M570.5 127.8h0M579.8 130.9h0M570.5 134.4h0M574.2 135.3h0M572.7 126.4h0M578.5 129.8h0M579.4 134.0h0M574.7 130.8h0M572.2 132.9h0M578.7 126.0h0M571.1 134.2h0M574.4 134.6h0M579.9 133.1h0M572.2 127.9h0M580.1 123.8h0M575.5 118.7h0M579.6 130.0h0M580.5 134.4h0M574.0 133.6h0M577.5 134.0h0M572.8 128.6h0M580.4 134.1h0M573.2 126.9h0M577.5 126.7h0M579.9 132.5h0M573.3 128.5h0M574.1 122.8h0M575.4 127.5h0M572.5 132.7h0M575.8 131.7h0M572.8 133.4h0M574.7 131.4h0M578.1 131.3h0M575.6 121.5h0M571.4 130.6h0M574.4 134.2h0M572.6 131.3h0M578.0 131.5h0M579.0 128.9h0M578.0 130.6h0M571.6 130.1h0M577.3 130.1h0M578.5 133.6h0M579.1 133.0h0M574.7 124.5h0M573.0 127.1h0M579.1 134.3h0M577.3 134.9h0M575.4 128.4h0M570.8 133.9h0M574.5 132.8h0M572.5 132.2h0M572.8 133.7h0M573.9 134.6h0M579.2 124.6h0M577.3 131.4h0M576.3 130.5h0M577.2 132.3h0M573.6 133.0h0M574.4 134.1h0M570.9 128.3h0M578.5 127.6h0M577.1 129.5h0M574.0 134.7h0M575.5 134.6h0M574.5 132.3h0M579.2 132.6h0M572.6 133.4h0M574.5 132.9h0M571.4 131.7h0M580.2 130.1h0M578.6 134.8h0M571.6 132.9h0M580.2 127.7h0M578.5 128.7h0M578.7 125.7h0M575.3 132.1h0M578.0 135.0h0M580.0 123.1h0M575.1 120.0h0M574.3 128.1h0M572.4 125.5h0M572.5 135.1h0M571.4 129.1h0M572.2 132.2h0M572.2 133.3h0M573.1 132.9h0M579.2 132.6h0M579.8 130.6h0M595.4 132.3h0M593.4 132.8h0M593.8 133.5h0M593.6 117.8h0M593.9 125.3h0M598.0 132.4h0M593.2 129.0h0M597.9 134.6h0M596.8 133.4h0M593.6 123.6h0M591.2 132.9h0M591.7 127.8h0M590.9 129.7h0M596.5 134.6h0M590.9 133.7h0M592.5 134.7h0M591.9 134.1h0M593.6 134.2h0M595.3 133.4h0M595.2 132.0h0M595.6 128.2h0M591.7 135.2h0M594.7 129.5h0M597.8 134.1h0M594.8 130.4h0M597.9 131.5h0M596.5 128.6h0M595.1 129.0h0M595.2 132.0h0M595.1 122.6h0M593.0 134.8h0M592.5 127.1h0M592.0 134.2h0M596.6 127.8h0M595.7 123.3h0M592.4 125.8h0M594.5 129.8h0M597.8 129.0h0M598.3 134.5h0M591.5 130.0h0M596.0 132.2h0M597.0 118.2h0M596.8 129.9h0M597.8 133.8h0M595.5 134.4h0M597.5 135.0h0M597.3 134.9h0M594.8 128.9h0M596.0 133.4h0M595.7 131.1h0M591.8 133.3h0M596.2 131.6h0M596.8 134.4h0M590.6 130.2h0M594.9 135.0h0M591.0 121.5h0M595.8 124.4h0M594.3 131.2h0M598.4 130.8h0M593.4 135.3h0M591.1 135.0h0M595.2 134.3h0M592.1 130.7h0M598.2 129.3h0M593.4 131.8h0M597.9 124.7h0M591.4 131.7h0M594.9 124.5h0M597.9 134.3h0M593.0 134.9h0M595.6 122.8h0M594.9 130.8h0M595.2 130.7h0M596.7 132.2h0M596.9 132.2h0M595.3 131.3h0M592.8 133.4h0M597.2 125.5h0M597.6 135.2h0M594.5 128.5h0M597.2 119.7h0M596.3 128.2h0M598.2 129.4h0M594.1 130.7h0M594.9 133.9h0M596.0 135.0h0M596.1 133.8h0M593.3 127.4h0M593.7 121.8h0M598.4 134.6h0M594.4 132.2h0M593.7 128.2h0M593.8 129.0h0M593.6 127.8h0M598.8 132.4h0M611.7 129.9h0M614.4 132.3h0M612.8 134.4h0M615.5 131.8h0M610.8 134.9h0M610.3 130.2h0M611.0 133.8h0M611.8 124.2h0M613.3 131.2h0M609.5 134.2h0M612.2 134.8h0M615.0 124.1h0M610.9 131.4h0M610.5 135.1h0M614.0 126.4h0M613.1 132.2h0M614.6 133.6h0M614.8 122.3h0M611.4 131.0h0M613.1 133.9h0M613.2 133.1h0M612.2 127.7h0M613.5 130.9h0M614.7 121.7h0M609.5 131.0h0M610.7 131.7h0M612.4 134.8h0M615.8 129.7h0M613.2 131.5h0M612.4 127.3h0M610.6 128.9h0M613.9 127.3h0M613.5 129.6h0M609.4 123.4h0M614.0 125.8h0M614.9 132.6h0M611.2 131.4h0M614.7 130.6h0M612.5 130.7h0M612.1 132.7h0M609.7 135.1h0M614.4 132.9h0M612.6 131.9h0M616.1 135.2h0M611.5 134.2h0M611.4 121.4h0M614.4 119.5h0M614.2 133.8h0M615.5 134.4h0M614.1 130.3h0M611.9 123.6h0M614.1 134.8h0M612.3 132.2h0M610.9 125.7h0M613.5 134.3h0M612.6 129.9h0M612.1 134.8h0M614.6 123.9h0M614.1 134.2h0M615.9 130.5h0M613.5 132.9h0M615.0 131.0h0M611.0 130.3h0M613.6 132.6h0M610.4 133.6h0M614.8 116.9h0M611.7 134.0h0M616.3 134.3h0M610.1 133.4h0M613.8 125.0h0M611.3 135.3h0M613.4 134.5h0M613.1 130.0h0M613.9 134.7h0M613.7 134.1h0M614.3 126.3h0M610.5 130.1h0M610.6 129.3h0M615.5 117.6h0M613.4 134.7h0M611.2 121.4h0M613.8 135.4h0M615.4 128.2h0M613.1 133.3h0M611.5 132.4h0M615.5 134.6h0M610.4 130.1h0M612.0 131.9h0M612.4 134.9h0M610.6 134.7h0M615.3 119.0h0M614.5 125.8h0M612.3 127.2h0M611.2 128.2h0M612.1 127.4h0M611.4 130.5h0M613.1 122.5h0M613.7 120.2h0M613.1 122.1h0M612.9 120.8h0M613.5 118.4h0M612.5 131.8h0M626.3 133.1h0M626.4 125.5h0M626.7 134.6h0M627.0 134.7h0M624.7 120.0h0M626.6 132.2h0M625.9 134.9h0M625.1 118.6h0M626.5 130.5h0M628.0 129.4h0M627.7 131.3h0M627.6 120.4h0M625.3 131.8h0M625.2 126.6h0M625.6 135.0h0M626.3 135.3h0M627.3 132.0h0M628.2 134.1h0M624.8 133.3h0M626.7 125.5h0M625.1 129.2h0M625.3 134.4h0M625.5 132.3h0M625.1 126.9h0M628.4 130.7h0M627.7 133.1h0M627.7 120.2h0M625.4 127.5h0M624.6 129.7h0M627.3 133.9h0M624.4 132.2h0M627.3 135.2h0M627.8 130.1h0M627.6 132.1h0M625.0 120.0h0M628.1 132.8h0M626.8 127.3h0M628.6 125.1h0M625.6 130.7h0M625.6 131.4h0M626.7 133.4h0M624.6 135.0h0M624.9 132.8h0M625.6 131.4h0M624.6 128.3h0M625.9 133.0h0M628.6 127.0h0M627.7 131.6h0M626.2 135.0h0M628.0 131.8h0M626.3 132.4h0M626.6 131.9h0M626.6 134.9h0M625.3 132.7h0M624.6 129.9h0M628.6 134.5h0M627.8 132.9h0M627.8 124.3h0M628.1 134.8h0M628.7 133.8h0M626.8 131.8h0M627.8 132.8h0M629.0 131.8h0M627.0 130.6h0M632.4 129.3h0M632.9 125.7h0M634.2 124.8h0M633.3 126.6h0M631.4 134.8h0M632.8 135.1h0M631.9 134.1h0M631.3 132.7h0M631.7 133.5h0M631.5 123.7h0M634.2 134.7h0M634.1 134.6h0M632.9 133.0h0M634.0 130.5h0M631.0 131.4h0M632.0 132.3h0M632.7 131.3h0M631.8 131.4h0M631.9 131.4h0M631.1 134.5h0M631.3 129.5h0M631.8 134.0h0M634.1 132.4h0M633.0 133.7h0M633.9 130.1h0M634.1 129.8h0M630.9 132.2h0M630.7 130.9h0M631.8 119.8h0M633.1 131.6h0M632.0 134.8h0M634.2 132.9h0M633.7 134.5h0M633.4 129.3h0M632.5 126.4h0M632.7 117.8h0M630.9 133.0h0M632.5 134.7h0M631.0 129.1h0M633.4 135.1h0M630.7 135.0h0M634.3 130.5h0M634.3 130.2h0M633.4 134.0h0M632.2 131.0h0M633.3 130.6h0M633.2 134.5h0M630.9 125.3h0M634.6 129.2h0M634.1 126.8h0M633.5 129.7h0M644.0 122.5h0M643.3 135.3h0M643.0 123.9h0M640.8 134.3h0M643.3 130.2h0M640.6 130.0h0M643.7 134.2h0M642.0 135.1h0M642.1 133.6h0M643.8 120.9h0M640.8 132.0h0M640.6 134.1h0M643.6 132.4h0M641.2 132.1h0M640.8 134.2h0M641.8 128.6h0M643.0 120.7h0M642.6 131.1h0M641.5 135.4h0M640.6 132.9h0M641.9 132.2h0M643.5 129.0h0M643.1 131.9h0M640.9 127.6h0M643.3 127.8h0M641.3 123.4h0M642.1 133.0h0M643.4 128.4h0M640.8 135.1h0M644.0 133.3h0M641.8 126.0h0M641.6 134.9h0M641.1 132.1h0M642.5 130.5h0M644.1 134.1h0M642.7 133.1h0M642.0 130.4h0M641.9 129.3h0M641.9 130.6h0M641.8 133.5h0M641.0 125.1h0M641.6 131.0h0M640.9 124.1h0M641.8 131.6h0M643.5 132.5h0M640.8 129.2h0M640.7 120.8h0M642.6 134.5h0M640.8 134.3h0M641.2 132.5h0M642.2 131.8h0M642.2 130.2h0M641.7 128.2h0M652.2 126.1h0M653.1 133.2h0M652.2 122.0h0M653.1 123.2h0M653.0 133.7h0M652.2 135.3h0M652.5 135.1h0M652.7 126.8h0M651.5 131.0h0M653.2 134.4h0M652.3 129.5h0M652.4 135.4h0M651.8 125.3h0M652.4 131.3h0M652.5 129.8h0M653.2 125.8h0M652.8 128.8h0M652.0 131.8h0M651.8 128.4h0M652.6 133.9h0M651.7 123.2h0M651.5 133.5h0M653.2 134.1h0M652.8 135.0h0M651.9 127.2h0M651.7 133.0h0M651.9 130.6h0M652.4 135.0h0M651.5 134.4h0M651.5 131.2h0M652.3 130.8h0M653.0 130.0h0M656.8 134.4h0M657.2 128.5h0M657.6 128.3h0M656.8 133.1h0M657.9 133.3h0M657.6 134.4h0M657.7 132.2h0M657.3 124.7h0M657.1 130.9h0M656.8 134.9h0M657.0 133.9h0M656.8 118.8h0M656.8 125.4h0M657.1 129.1h0M657.6 130.1h0M656.9 125.7h0M657.6 121.4h0M656.8 121.6h0M657.6 120.4h0M657.6 134.4h0M657.2 128.7h0M657.0 129.2h0M657.6 130.1h0M656.6 129.3h0M657.4 121.3h0M657.1 124.7h0M657.6 124.0h0M662.2 132.2h0M662.2 125.1h0M662.1 135.3h0M662.0 135.4h0M662.0 126.0h0M662.4 133.3h0M661.8 130.5h0M662.2 117.9h0M662.8 131.5h0M662.3 133.4h0M662.8 120.6h0M662.8 127.2h0M662.5 124.6h0M662.3 133.4h0M662.4 122.8h0M667.1 132.3h0M667.3 131.3h0M667.4 132.4h0M667.6 134.8h0M667.3 133.9h0M666.8 132.9h0M667.6 133.3h0M666.9 135.4h0M667.3 122.4h0M667.8 135.3h0M667.6 129.4h0M668.2 135.2h0M667.6 135.3h0M667.9 132.3h0M667.3 131.5h0M666.7 128.9h0M668.1 128.7h0M667.4 132.5h0M667.2 132.5h0M667.5 130.3h0M667.6 128.7h0M667.8 134.9h0M666.8 131.3h0M666.9 121.2h0M667.1 128.3h0M667.1 132.1h0M272.4 81.2h0M272.1 99.6h0M286.0 98.8h0M330.5 106.2h0M272.1 109.4h0M280.9 110.4h0M282.6 109.7h0M267.7 113.2h0M271.4 113.5h0M283.8 114.5h0M290.1 112.6h0M296.5 110.9h0M307.2 112.3h0M313.0 111.3h0M321.0 113.1h0M327.6 114.5h0M334.5 114.5h0M262.6 117.4h0M256.8 118.6h0M405.5 106.5h0M409.0 111.9h0M408.0 114.5h0M427.7 105.5h0M428.4 109.1h0M427.0 113.1h0M434.3 110.1h0M441.0 110.1h0M441.7 113.1h0M451.9 110.9h0M452.6 109.4h0M498.9 102.8h0M498.6 102.7h0M502.5 117.0h0M510.0 113.8h0M542.8 117.9h0M551.3 117.9h0M593.6 107.2h0M598.7 109.4h0M594.3 113.1h0M595.8 117.4h0M628.8 110.2h0M634.1 111.1h0M635.4 111.7h0M643.4 108.9h0M642.6 111.7h0M627.9 115.4h0M668.0 112.3h0M668.0 115.8h0M657.7 117.0h0" fill="none" stroke="#000080" stroke-width="2.85" stroke-linecap="round"/>
<path d="M348.4 132.3h0M365.8 134.3h0M353.4 131.9h0M372.2 134.0h0M363.7 132.6h0M361.7 134.9h0M373.1 130.7h0M393.2 131.9h0M382.5 129.7h0M357.3 135.3h0M347.1 130.3h0M346.1 124.6h0M351.1 126.1h0M393.5 127.3h0M396.2 133.6h0M393.6 134.6h0M366.1 133.3h0M376.9 134.9h0M381.3 134.0h0M377.1 128.3h0M400.5 135.4h0M379.7 124.3h0M374.3 133.3h0M367.4 125.9h0M376.8 128.7h0M399.2 133.0h0M377.2 133.1h0M368.2 135.2h0M383.8 135.2h0M339.4 135.4h0M346.0 134.9h0M360.5 132.3h0M402.6 134.0h0M380.5 124.8h0M391.6 128.2h0M390.8 134.2h0M374.3 134.2h0M347.2 133.5h0M398.1 128.8h0M395.6 133.7h0M380.7 133.5h0M340.3 128.9h0M361.8 132.9h0M391.4 133.9h0M383.5 132.8h0M371.4 131.0h0M381.8 135.2h0M348.2 125.6h0M369.3 130.9h0M384.3 133.6h0M338.1 119.1h0M362.3 125.3h0M348.3 127.5h0M343.3 129.8h0M401.7 133.6h0M389.2 130.7h0M368.2 132.7h0M388.5 132.4h0M349.6 129.7h0M373.0 132.8h0M398.8 131.7h0M346.7 127.3h0M343.9 133.3h0M341.6 135.3h0M388.0 134.5h0M390.1 130.5h0M347.0 133.9h0M392.0 119.6h0M337.9 122.4h0M379.1 133.2h0M397.8 129.5h0M362.8 132.0h0M390.5 135.4h0M397.5 117.6h0M359.6 130.6h0M388.6 134.2h0M401.0 123.3h0M375.9 134.6h0M365.3 132.2h0M399.4 128.4h0M383.6 129.7h0M380.5 130.2h0M353.2 132.0h0M344.6 128.7h0M362.6 130.8h0M379.6 131.8h0M402.2 132.5h0M337.4 134.2h0M357.5 121.7h0M364.5 134.0h0M402.8 131.4h0M358.0 130.0h0M366.7 132.0h0M364.6 132.3h0M363.1 134.6h0M350.1 133.2h0M360.8 127.9h0M374.6 134.7h0M389.0 127.2h0M385.7 131.1h0M346.2 133.6h0M360.0 134.1h0M368.0 134.0h0M345.3 134.7h0M349.8 134.1h0M372.7 128.3h0M365.4 134.4h0M375.4 126.3h0M362.9 131.8h0M378.6 134.5h0M389.4 135.1h0M386.7 135.2h0M382.4 133.3h0M345.3 131.5h0M341.6 132.0h0M362.2 134.2h0M381.0 133.9h0M392.9 133.5h0M384.2 134.3h0M372.5 133.5h0M392.1 135.0h0M367.7 134.4h0M391.0 133.9h0M377.9 131.4h0M353.7 129.2h0M392.2 135.1h0M391.1 133.7h0M378.8 121.5h0M393.9 134.9h0M353.1 131.0h0M370.7 134.4h0M397.4 134.8h0M391.6 130.0h0M398.5 133.3h0M384.7 134.8h0M336.8 134.1h0M350.1 134.8h0M362.0 129.0h0M377.8 132.5h0M379.4 134.0h0M398.4 130.5h0M394.0 132.3h0M388.2 120.2h0M354.8 133.0h0M392.4 135.0h0M374.1 134.8h0M339.6 132.7h0M391.8 134.3h0M398.6 132.0h0M342.9 124.9h0M339.5 130.4h0M366.2 133.0h0M376.5 121.5h0M370.8 134.5h0M349.8 132.2h0M395.5 133.4h0M388.7 117.8h0M397.4 135.1h0M392.6 132.7h0M346.5 134.6h0M355.8 124.9h0M370.2 135.2h0M363.2 127.4h0M393.1 128.4h0M363.1 130.8h0M368.2 125.0h0M373.7 123.3h0M368.6 124.8h0M376.1 133.0h0M346.6 133.7h0M393.7 131.5h0M394.6 134.0h0M388.6 128.6h0M403.6 133.0h0M375.2 128.5h0M375.1 134.9h0M397.1 135.4h0M361.3 133.6h0M379.4 131.9h0M369.1 131.5h0M393.4 131.0h0M370.2 132.8h0M336.8 128.1h0M358.4 134.6h0M396.7 134.3h0M343.8 134.7h0M370.7 133.7h0M403.4 127.8h0M377.5 127.0h0M340.9 135.2h0M391.6 131.0h0M401.6 134.0h0M375.1 131.9h0M341.6 131.2h0M399.4 134.6h0M342.2 134.0h0M385.3 133.9h0M350.7 134.1h0M368.8 134.0h0M356.8 129.5h0M402.1 126.3h0M341.6 127.8h0M398.7 133.7h0M345.5 126.7h0M361.0 132.8h0M338.5 129.3h0M386.9 133.7h0M339.3 125.8h0M381.1 131.5h0M365.1 126.3h0M349.8 119.4h0M345.3 134.9h0M344.8 131.5h0M349.8 134.0h0M401.2 135.2h0M401.3 133.6h0M351.3 129.7h0M337.2 123.5h0M338.8 117.7h0M373.6 134.1h0M387.9 135.4h0M391.4 135.0h0M372.0 135.3h0M356.0 134.4h0M361.5 132.4h0M380.4 133.2h0M348.8 134.5h0M356.5 130.3h0M365.2 123.5h0M338.2 132.6h0M343.6 135.3h0M381.2 131.1h0M365.6 122.0h0M359.7 130.0h0M364.8 135.1h0M390.6 130.1h0M392.4 122.0h0M373.5 131.7h0M368.6 132.3h0M375.2 130.4h0M366.8 126.8h0M392.4 132.6h0M371.8 130.4h0M390.7 131.7h0M354.0 131.3h0M377.2 133.8h0M367.3 135.2h0M352.2 125.6h0M383.5 132.8h0M383.3 123.9h0M362.4 131.1h0M379.7 132.9h0M389.3 133.5h0M387.0 135.4h0M357.2 129.4h0M359.3 135.3h0M389.4 131.5h0M350.6 126.4h0M344.6 135.0h0M345.2 130.8h0M401.0 130.2h0M352.2 131.3h0M383.6 120.9h0M388.0 134.5h0M375.1 132.3h0M356.3 133.4h0M371.9 133.0h0M394.7 132.7h0M350.0 135.1h0M377.4 123.1h0M378.9 131.2h0M363.1 134.2h0M346.8 134.4h0M395.6 129.4h0M383.9 135.4h0M370.0 133.8h0M338.7 130.4h0M373.8 133.4h0M371.0 126.2h0M377.1 133.7h0M356.2 131.5h0M355.1 131.9h0M357.4 135.4h0M369.6 135.0h0M395.0 132.3h0M386.9 129.3h0M361.6 134.1h0M343.5 134.3h0M370.9 132.2h0M398.5 134.8h0M341.2 118.4h0M340.7 135.4h0M393.8 129.6h0M337.2 135.1h0M358.9 132.0h0M337.2 135.3h0M350.0 134.4h0M373.5 133.9h0M352.3 134.1h0M396.1 134.4h0M373.9 134.2h0M358.8 132.7h0M337.7 133.1h0M379.6 134.5h0M351.3 129.1h0M397.4 134.6h0M389.9 135.0h0M346.4 126.1h0M346.7 127.5h0M355.8 135.2h0M376.2 133.5h0M389.8 132.8h0M344.6 130.6h0M386.7 134.4h0M400.5 134.9h0M351.4 128.0h0M353.5 133.9h0M353.3 133.0h0M353.5 135.3h0M360.1 134.5h0M395.3 132.7h0M377.9 130.6h0M362.5 126.6h0M353.0 133.0h0M395.5 127.6h0M377.2 124.7h0M341.4 134.9h0M396.0 128.3h0M398.4 132.1h0M387.2 123.6h0M367.2 133.4h0M363.2 133.5h0M337.7 132.6h0M347.9 134.8h0M395.1 131.7h0M346.6 129.9h0M378.7 132.7h0M341.9 134.8h0M352.4 131.2h0M348.1 130.8h0M357.4 126.8h0M373.5 132.9h0M398.1 125.8h0M382.5 127.2h0M349.1 135.1h0M402.7 132.0h0M349.5 129.7h0M401.2 133.5h0M395.0 132.3h0M389.1 126.8h0M381.3 131.1h0M344.7 133.6h0M338.8 122.3h0M377.8 134.0h0M350.7 120.6h0M393.5 134.2h0M363.6 133.7h0M339.9 133.4h0M383.4 122.8h0M343.1 135.4h0M361.4 134.8h0M346.1 125.6h0M357.5 134.3h0M397.1 132.3h0M397.2 132.0h0M365.1 124.6h0M365.7 127.4h0M365.9 126.4h0M365.8 122.4h0M365.7 130.7h0M365.9 127.3h0M339.7 130.7h0M339.3 132.8h0M379.0 132.3h0M381.1 126.8h0M381.7 124.2h0M381.6 126.0h0M381.6 123.0h0M381.7 126.7h0M380.1 120.3h0M380.9 122.3h0M396.0 129.8h0M396.3 132.7h0M396.2 128.8h0M348.8 131.9h0M348.8 130.2h0M369.7 122.6h0M368.4 132.0h0M369.8 128.8h0M369.0 126.6h0M368.8 123.4h0M369.1 123.0h0M359.9 130.8h0M360.6 130.6h0M366.4 121.6h0M366.7 129.5h0M366.4 123.9h0M366.2 132.5h0M366.7 124.3h0M397.9 126.5h0M398.0 126.6h0M398.0 126.6h0M397.7 126.3h0M397.8 132.4h0M365.2 127.4h0M366.6 130.2h0M366.4 129.8h0M365.2 131.5h0M400.7 127.2h0M400.4 131.8h0M400.4 131.4h0M393.9 132.2h0M403.0 132.7h0M403.5 132.5h0M402.6 131.9h0M373.5 130.9h0M373.7 130.2h0M400.5 127.9h0M400.8 133.3h0M400.8 126.8h0M380.8 127.1h0M380.7 128.6h0M380.0 125.3h0M380.4 132.5h0M362.4 132.2h0M362.7 130.8h0M349.6 126.4h0M349.8 119.6h0M349.5 123.5h0M349.8 129.6h0M349.2 121.0h0M350.0 131.7h0M466.5 133.8h0M456.0 133.9h0M482.3 134.8h0M459.9 127.1h0M474.1 120.1h0M457.3 127.5h0M488.0 135.0h0M457.1 134.9h0M457.3 129.8h0M488.0 132.6h0M489.1 134.8h0M494.4 122.9h0M488.3 130.5h0M478.5 134.5h0M490.0 124.6h0M488.6 134.4h0M476.0 132.8h0M482.2 127.1h0M489.7 133.4h0M487.8 121.5h0M456.2 135.1h0M459.6 130.9h0M490.3 134.9h0M466.8 135.2h0M492.7 133.5h0M486.8 120.1h0M460.3 132.2h0M464.5 118.1h0M486.6 130.1h0M490.8 131.7h0M470.2 120.8h0M459.4 129.0h0M482.4 132.5h0M470.5 133.7h0M464.0 128.0h0M461.2 122.1h0M480.1 134.1h0M489.0 134.1h0M460.7 133.1h0M472.6 129.7h0M460.1 130.3h0M467.4 135.1h0M463.5 131.6h0M488.9 134.2h0M469.4 134.0h0M495.3 124.7h0M461.2 127.7h0M459.2 127.9h0M466.6 127.0h0M472.6 134.1h0M482.1 134.6h0M482.1 126.4h0M462.0 127.1h0M488.9 133.8h0M485.3 133.4h0M461.5 131.1h0M492.3 134.1h0M479.3 123.3h0M456.3 135.3h0M487.4 120.9h0M465.9 129.2h0M458.5 122.9h0M483.0 129.3h0M487.9 133.0h0M493.9 134.3h0M469.1 121.3h0M487.2 133.3h0M479.0 133.2h0M493.2 129.3h0M466.6 128.1h0M458.6 133.1h0M489.2 126.9h0M474.4 134.1h0M466.9 133.2h0M479.3 135.3h0M462.4 119.7h0M486.4 128.1h0M489.4 131.4h0M480.3 132.5h0M461.7 135.0h0M489.1 130.8h0M492.8 132.1h0M471.9 131.9h0M492.2 127.4h0M481.8 123.4h0M467.9 134.2h0M457.0 131.2h0M487.0 133.6h0M481.4 133.9h0M460.9 133.5h0M468.4 133.3h0M468.0 133.7h0M478.5 122.3h0M466.1 131.8h0M487.4 133.6h0M461.5 133.3h0M482.4 132.9h0M488.8 120.7h0M462.3 131.9h0M457.2 124.1h0M494.3 130.9h0M476.4 133.4h0M472.1 133.5h0M480.2 134.8h0M460.7 129.1h0M465.2 135.4h0M472.9 133.1h0M476.3 128.9h0M456.4 135.2h0M462.3 132.4h0M485.3 126.8h0M480.2 126.9h0M487.1 134.2h0M462.2 133.6h0M471.1 135.2h0M482.8 119.3h0M470.7 129.8h0M491.8 132.4h0M479.0 133.3h0M463.7 131.9h0M459.1 131.7h0M471.7 127.1h0M486.7 129.9h0M493.3 134.0h0M458.5 132.0h0M482.6 130.1h0M486.6 134.1h0M466.0 133.7h0M480.2 134.9h0M483.2 128.1h0M467.4 133.5h0M462.6 135.1h0M463.9 133.9h0M471.5 135.2h0M475.6 135.4h0M470.8 135.4h0M462.0 134.9h0M458.5 129.2h0M482.7 127.5h0M476.7 130.1h0M464.4 128.7h0M456.3 132.7h0M472.1 135.4h0M494.0 130.4h0M457.7 125.9h0M471.4 122.4h0M461.9 132.6h0M473.6 134.9h0M489.5 131.3h0M463.2 129.7h0M488.3 130.7h0M467.2 133.9h0M494.3 133.9h0M480.8 134.6h0M484.4 133.1h0M464.3 131.8h0M477.0 125.2h0M464.3 135.3h0M468.4 134.5h0M481.3 134.5h0M471.0 130.5h0M480.9 133.9h0M486.2 133.0h0M484.2 125.0h0M467.6 120.8h0M471.7 125.5h0M480.2 125.2h0M466.8 133.7h0M474.8 125.3h0M478.7 134.6h0M458.0 134.6h0M486.4 133.8h0M490.0 134.2h0M469.0 135.2h0M483.0 135.4h0M486.8 130.4h0M491.7 126.6h0M470.2 132.5h0M474.9 130.5h0M472.8 134.3h0M491.0 132.8h0M484.5 135.0h0M492.0 129.0h0M483.7 131.0h0M490.4 134.7h0M479.8 135.1h0M464.7 134.8h0M470.9 129.3h0M464.4 129.4h0M469.4 134.9h0M487.8 131.7h0M470.7 124.9h0M478.0 120.5h0M475.6 134.4h0M486.0 129.5h0M494.3 134.8h0M455.8 131.2h0M488.7 133.7h0M468.0 135.1h0M460.7 129.5h0M479.1 128.8h0M487.9 133.8h0M463.3 135.0h0M479.6 127.9h0M471.2 134.1h0M462.5 125.6h0M475.4 135.1h0M482.8 134.2h0M463.1 134.0h0M493.8 130.5h0M494.1 131.3h0M478.4 128.2h0M458.7 133.0h0M462.7 131.5h0M472.9 131.1h0M478.5 131.2h0M492.5 131.1h0M460.3 131.2h0M485.1 124.2h0M473.3 133.0h0M471.2 131.1h0M495.3 129.6h0M492.1 135.1h0M474.0 125.1h0M474.2 129.7h0M461.8 133.0h0M474.6 134.2h0M463.9 133.7h0M466.9 130.5h0M459.1 126.1h0M472.5 134.1h0M488.9 134.2h0M458.1 131.9h0M483.4 134.2h0M467.5 133.5h0M456.1 134.2h0M468.6 128.0h0M459.8 134.0h0M485.0 131.7h0M492.7 120.1h0M475.3 135.3h0M477.5 132.0h0M492.5 132.5h0M473.0 130.7h0M476.2 118.3h0M480.6 135.4h0M481.6 117.9h0M489.0 134.3h0M489.3 135.2h0M489.1 134.7h0M461.4 134.4h0M475.7 133.9h0M476.0 129.3h0M493.3 135.0h0M470.2 125.9h0M471.9 135.2h0M493.6 118.2h0M463.4 134.5h0M483.3 133.3h0M488.5 121.6h0M480.0 126.9h0M465.0 126.8h0M464.1 123.2h0M486.2 134.7h0M480.4 128.0h0M476.6 134.9h0M477.1 134.4h0M461.2 132.7h0M487.1 131.3h0M461.2 128.9h0M492.7 121.1h0M494.5 133.1h0M471.5 134.3h0M459.0 125.8h0M456.0 132.8h0M469.8 134.2h0M480.5 126.1h0M487.3 134.9h0M467.8 128.0h0M484.8 134.4h0M464.3 121.0h0M468.8 133.3h0M457.6 117.6h0M462.8 135.3h0M494.0 132.2h0M487.3 135.2h0M491.0 131.5h0M484.2 118.1h0M491.8 133.9h0M494.9 135.4h0M466.3 132.6h0M475.4 124.2h0M467.7 132.9h0M465.5 132.6h0M473.0 131.6h0M455.8 133.8h0M486.7 134.6h0M492.4 129.0h0M492.5 134.6h0M469.5 124.0h0M494.8 119.3h0M477.8 125.7h0M461.7 124.7h0M461.1 134.7h0M493.8 129.2h0M461.0 134.3h0M490.6 124.1h0M456.9 134.7h0M466.5 133.7h0M461.4 135.4h0M458.1 126.0h0M484.1 132.2h0M467.9 128.9h0M472.6 134.7h0M473.4 133.1h0M474.5 133.6h0M464.8 135.4h0M475.5 125.6h0M458.8 127.4h0M486.9 135.4h0M483.9 133.9h0M484.8 126.9h0M464.5 119.3h0M480.2 125.5h0M464.3 134.4h0M491.5 134.9h0M469.4 133.3h0M487.6 134.7h0M463.7 131.2h0M476.9 127.1h0M483.7 127.2h0M469.8 132.5h0M462.8 123.8h0M489.8 134.9h0M492.4 129.4h0M495.4 130.5h0M458.1 132.5h0M465.6 129.7h0M470.3 132.8h0M476.2 133.4h0M458.4 130.7h0M469.4 123.8h0M469.4 128.4h0M468.7 134.8h0M467.7 134.1h0M482.6 129.7h0M483.7 134.3h0M462.1 130.4h0M457.9 130.9h0M466.2 129.8h0M492.9 130.8h0M477.8 129.0h0M465.5 131.0h0M457.2 128.1h0M457.9 128.4h0M458.9 130.0h0M476.8 132.9h0M476.2 129.8h0M462.6 131.1h0M463.1 129.7h0M463.6 127.2h0M463.3 127.9h0M464.7 127.9h0M464.6 129.4h0M464.3 133.1h0M477.2 132.2h0M477.1 130.8h0M472.7 132.9h0M472.3 132.9h0M471.9 128.7h0M493.8 128.2h0M493.4 127.2h0M493.7 120.6h0M493.3 124.0h0M493.0 129.6h0M481.8 130.6h0M480.3 132.5h0M466.8 126.2h0M467.2 129.6h0M467.6 126.2h0M467.5 120.5h0M467.2 123.2h0M467.2 117.0h0M467.8 121.8h0M467.2 119.0h0M467.6 120.6h0M468.4 132.9h0M466.4 127.6h0M467.5 126.3h0M460.6 126.8h0M460.6 129.2h0M460.9 128.9h0M459.8 124.5h0M483.6 131.5h0M483.6 130.9h0M537.7 127.1h0M533.3 119.3h0M527.8 135.1h0M526.3 134.4h0M533.1 133.2h0M538.7 135.0h0M536.3 131.8h0M529.5 127.4h0M535.4 129.9h0M538.2 133.6h0M524.4 125.7h0M530.0 126.6h0M525.1 121.0h0M531.9 127.0h0M531.6 133.9h0M530.7 127.2h0M537.5 132.6h0M527.5 127.0h0M530.3 132.1h0M527.2 134.4h0M526.7 134.9h0M528.0 132.9h0M525.6 129.5h0M538.7 134.2h0M527.0 131.6h0M524.5 127.6h0M526.3 133.8h0M531.3 133.0h0M531.7 124.1h0M538.7 125.0h0M525.8 135.2h0M528.6 127.8h0M534.1 132.6h0M537.3 132.9h0M528.2 135.3h0M528.1 135.1h0M532.4 135.3h0M535.4 134.3h0M535.4 134.6h0M538.7 132.1h0M532.1 135.0h0M532.1 124.4h0M538.1 132.9h0M536.0 127.4h0M529.1 133.0h0M538.9 133.9h0M526.2 135.0h0M537.5 130.9h0M533.4 117.8h0M529.7 126.4h0M535.8 132.1h0M534.8 134.5h0M524.9 132.9h0M535.4 133.4h0M534.5 128.1h0M529.8 129.6h0M530.2 133.7h0M529.1 132.8h0M534.8 125.5h0M526.2 134.7h0M533.8 132.5h0M530.7 130.0h0M533.3 131.5h0M536.4 133.8h0M526.2 133.5h0M534.0 134.7h0M537.0 132.5h0M527.7 125.9h0M534.5 128.5h0M539.2 131.6h0M530.5 134.6h0M528.3 133.0h0M537.1 131.0h0M525.4 132.4h0M535.1 134.0h0M524.9 132.6h0M532.2 134.1h0M527.3 133.6h0M525.9 133.2h0M529.1 125.5h0M532.1 132.5h0M538.1 132.7h0M531.7 134.7h0M525.1 134.6h0M529.2 129.9h0M531.6 129.3h0M525.4 135.2h0M532.9 135.3h0M528.6 133.1h0M530.7 133.8h0M537.7 126.3h0M535.5 127.5h0M529.8 134.8h0M527.3 127.6h0M525.8 129.5h0M527.8 130.4h0M528.5 132.9h0M528.3 133.2h0M530.9 131.5h0M530.0 129.2h0M533.4 132.9h0M528.6 131.1h0M528.8 131.4h0M565.9 131.8h0M563.2 121.9h0M559.5 130.6h0M566.2 133.0h0M558.9 127.0h0M562.7 134.2h0M564.6 132.2h0M560.1 124.4h0M558.2 134.9h0M561.6 133.4h0M567.2 134.7h0M560.1 133.0h0M567.9 133.6h0M567.0 130.0h0M559.1 134.7h0M562.8 132.6h0M559.5 134.6h0M558.0 135.0h0M560.1 134.5h0M564.4 133.5h0M562.9 130.8h0M558.4 132.7h0M562.6 129.5h0M561.9 129.5h0M561.2 134.1h0M560.4 134.5h0M559.5 118.7h0M568.4 130.4h0M561.0 132.6h0M558.7 134.8h0M562.8 121.0h0M557.6 133.3h0M558.7 128.6h0M566.3 131.6h0M567.6 126.5h0M559.0 133.8h0M561.0 134.7h0M559.5 133.1h0M562.2 134.7h0M558.7 132.4h0M558.2 126.0h0M561.8 132.7h0M564.6 132.7h0M564.4 131.4h0M558.2 128.2h0M563.5 117.0h0M559.5 127.7h0M566.5 131.9h0M563.9 133.3h0M563.5 124.1h0M565.6 131.4h0M560.3 121.5h0M561.9 128.0h0M560.3 134.4h0M565.7 132.6h0M557.8 132.6h0M568.6 134.9h0M568.1 135.0h0M564.6 122.0h0M567.5 129.5h0M565.8 125.5h0M568.4 127.7h0M562.1 133.9h0M565.4 127.8h0M569.3 132.6h0M559.4 135.2h0M561.2 134.5h0M569.2 120.2h0M562.2 127.3h0M561.2 120.9h0M565.9 131.2h0M565.7 133.1h0M561.4 121.8h0M558.0 127.3h0M562.8 122.4h0M568.8 133.0h0M563.4 134.9h0M561.7 118.5h0M562.7 133.7h0M560.3 129.4h0M568.3 119.6h0M563.5 127.0h0M560.0 132.4h0M562.8 133.0h0M563.4 133.2h0M566.9 135.4h0M566.7 127.6h0M560.4 134.8h0M564.0 134.0h0M561.5 117.4h0M557.6 125.6h0M561.8 129.3h0M565.2 133.0h0M568.5 125.2h0M563.3 132.5h0M557.7 132.1h0M566.2 131.0h0M559.7 121.6h0M566.8 131.0h0M560.5 134.2h0M565.4 132.5h0M560.7 125.1h0M568.8 130.3h0M567.2 118.8h0M565.6 132.5h0M563.4 131.8h0M569.2 133.0h0M563.7 127.8h0M561.0 135.2h0M558.2 124.6h0M562.5 123.6h0M562.8 134.9h0M557.7 126.8h0M565.5 131.7h0M560.7 132.3h0M563.7 130.3h0M568.0 134.7h0M563.6 124.9h0M564.6 121.6h0M568.6 135.2h0M558.9 129.4h0M566.3 135.3h0M558.7 132.8h0M563.9 129.3h0M564.4 125.9h0M561.1 132.1h0M557.9 118.9h0M560.2 127.6h0M565.0 127.0h0M567.7 130.0h0M567.1 130.5h0M566.9 129.2h0M567.8 127.9h0M563.9 131.0h0M563.8 128.4h0M563.9 130.6h0M564.4 131.7h0M563.8 131.6h0M559.7 131.5h0M557.8 131.0h0M588.4 129.4h0M583.3 132.2h0M582.1 134.2h0M584.2 130.3h0M584.6 133.0h0M584.7 135.2h0M582.9 134.5h0M583.1 123.0h0M585.2 128.9h0M589.2 133.1h0M588.8 131.4h0M585.9 134.1h0M587.9 133.9h0M583.5 135.1h0M585.8 119.4h0M584.3 132.0h0M585.5 131.7h0M585.0 134.6h0M586.0 134.3h0M588.4 132.8h0M587.9 129.3h0M583.6 128.9h0M584.3 131.8h0M582.3 132.2h0M589.1 124.7h0M582.9 119.8h0M585.3 135.1h0M586.4 124.9h0M582.0 129.8h0M588.9 135.2h0M585.2 131.9h0M585.0 132.0h0M582.5 132.6h0M583.5 133.6h0M585.0 134.8h0M588.7 129.4h0M587.8 127.7h0M586.6 133.4h0M584.1 134.6h0M586.2 133.4h0M583.2 135.2h0M587.3 132.0h0M583.4 125.4h0M588.9 135.4h0M585.0 134.8h0M582.8 133.8h0M585.6 128.8h0M584.3 132.8h0M588.4 122.4h0M588.2 135.1h0M583.5 134.4h0M586.5 131.8h0M582.5 131.1h0M586.4 127.6h0M585.1 130.5h0M587.4 129.8h0M587.1 135.2h0M586.3 131.8h0M582.0 134.6h0M584.0 131.2h0M589.2 126.4h0M588.8 130.8h0M584.4 133.8h0M584.5 133.2h0M585.0 135.2h0M589.2 131.7h0M583.6 132.9h0M587.5 117.4h0M583.7 135.0h0M587.7 133.5h0M588.8 133.5h0M588.4 128.7h0M586.9 125.1h0M588.7 131.3h0M586.1 134.2h0M583.9 131.4h0M583.4 131.0h0M582.8 129.6h0M586.6 128.5h0M586.6 117.7h0M586.4 128.7h0M586.8 127.2h0M588.5 117.1h0M582.5 131.9h0M587.9 132.7h0M583.1 130.7h0M584.3 123.1h0M583.5 119.7h0M583.7 127.2h0M582.2 122.7h0M584.0 123.6h0M606.6 132.9h0M606.5 133.0h0M607.8 128.2h0M605.0 127.7h0M601.5 134.0h0M606.2 132.5h0M602.1 128.0h0M605.4 134.4h0M604.8 126.7h0M604.9 135.0h0M604.3 130.3h0M603.9 133.7h0M604.3 131.8h0M607.9 134.7h0M605.7 133.1h0M601.7 132.6h0M603.5 134.8h0M606.1 134.7h0M604.1 133.7h0M600.0 133.3h0M605.5 129.9h0M603.4 132.5h0M603.5 131.2h0M601.9 131.5h0M606.3 127.4h0M600.4 130.3h0M603.0 134.6h0M602.0 134.7h0M600.6 124.0h0M603.1 132.9h0M607.6 128.7h0M605.1 127.2h0M603.1 129.3h0M605.4 133.6h0M599.9 132.5h0M604.3 128.7h0M603.2 135.0h0M606.2 134.7h0M607.7 120.9h0M603.2 131.7h0M600.0 132.3h0M606.2 133.4h0M603.3 131.4h0M601.3 126.4h0M602.9 134.2h0M607.5 133.4h0M604.3 117.1h0M601.0 132.2h0M605.2 133.3h0M600.1 130.1h0M602.2 131.0h0M607.6 131.4h0M606.3 127.3h0M603.0 127.1h0M603.9 128.2h0M606.3 125.3h0M602.2 132.2h0M602.7 122.7h0M601.8 132.9h0M606.7 118.2h0M601.1 134.8h0M604.7 133.1h0M603.0 131.6h0M601.7 130.7h0M604.4 130.9h0M603.3 120.5h0M607.8 132.5h0M606.9 135.4h0M604.5 130.3h0M606.4 133.1h0M607.0 122.6h0M601.6 129.5h0M601.3 132.0h0M605.8 130.4h0M607.2 133.3h0M606.2 131.6h0M607.1 130.9h0M605.1 123.6h0M600.4 133.8h0M602.5 123.8h0M604.9 129.0h0M606.2 133.9h0M606.6 134.4h0M602.8 135.1h0M604.9 123.4h0M600.1 133.2h0M608.0 131.9h0M601.2 127.2h0M606.5 130.5h0M603.9 128.6h0M602.3 127.7h0M605.3 134.4h0M605.8 130.9h0M606.1 125.1h0M601.8 132.1h0M607.6 132.7h0M605.7 132.8h0M605.4 132.7h0M605.5 128.9h0M604.5 135.2h0M604.1 120.1h0M600.6 132.5h0M599.8 135.4h0M600.7 134.2h0M604.0 132.6h0M603.4 132.3h0M604.1 129.8h0M603.8 133.5h0M605.3 134.2h0M600.4 129.2h0M601.1 118.9h0M602.2 133.9h0M607.3 123.9h0M604.8 135.1h0M605.7 132.1h0M603.7 132.2h0M605.2 131.7h0M617.8 130.3h0M619.5 135.2h0M618.5 126.4h0M618.6 134.5h0M621.2 127.6h0M621.0 135.2h0M621.1 131.0h0M621.4 125.6h0M621.1 132.2h0M618.9 131.8h0M618.9 118.7h0M619.4 134.9h0M622.7 134.5h0M619.7 132.0h0M622.7 133.4h0M620.0 133.5h0M621.6 132.4h0M617.8 134.6h0M619.4 129.7h0M617.7 131.5h0M618.6 134.6h0M621.0 127.2h0M618.8 132.5h0M621.0 135.1h0M620.1 134.6h0M622.6 131.3h0M617.8 135.4h0M617.9 130.9h0M619.8 129.7h0M622.0 125.0h0M622.2 129.9h0M618.1 133.5h0M619.3 133.1h0M618.7 131.1h0M623.2 117.7h0M621.2 129.8h0M619.2 131.2h0M620.4 133.8h0M618.5 134.6h0M620.7 124.0h0M621.4 130.4h0M620.0 131.5h0M623.0 128.0h0M620.0 134.9h0M620.0 129.4h0M619.7 130.2h0M618.3 121.1h0M619.7 130.9h0M619.3 130.9h0M618.9 127.3h0M619.5 120.7h0M619.3 132.0h0M629.9 125.6h0M630.0 130.1h0M630.0 133.9h0M630.0 134.4h0M630.0 118.0h0M629.9 125.0h0M629.9 130.0h0M630.0 132.5h0M637.5 135.2h0M637.9 134.4h0M636.0 133.8h0M636.3 131.2h0M637.4 131.0h0M636.5 128.3h0M637.7 125.1h0M638.1 127.1h0M636.5 134.7h0M637.2 133.4h0M638.4 133.3h0M635.6 129.2h0M638.3 122.8h0M638.7 131.2h0M637.6 135.3h0M638.9 128.5h0M639.1 133.7h0M639.2 130.6h0M638.9 131.4h0M637.5 131.2h0M638.2 125.6h0M637.4 131.4h0M636.9 132.3h0M638.1 132.8h0M638.6 134.9h0M636.4 127.3h0M637.8 129.4h0M635.8 131.0h0M638.8 134.2h0M637.0 127.7h0M635.8 135.2h0M638.8 128.3h0M638.4 124.8h0M638.8 133.8h0M638.2 131.1h0M638.0 131.3h0M638.0 130.4h0M648.3 133.6h0M649.2 135.4h0M646.8 130.8h0M646.7 129.8h0M646.4 125.5h0M645.6 129.8h0M646.0 129.7h0M645.6 131.0h0M647.8 131.3h0M648.4 132.8h0M648.7 134.4h0M645.7 133.3h0M649.9 120.3h0M647.8 135.2h0M646.3 131.3h0M646.2 131.6h0M645.5 134.5h0M650.1 131.6h0M647.2 133.4h0M646.1 133.8h0M648.7 133.9h0M647.6 129.0h0M647.9 129.6h0M647.4 129.9h0M647.4 122.0h0M647.6 131.1h0M647.7 122.9h0M647.1 129.5h0M655.0 126.2h0M655.3 129.0h0M654.8 130.3h0M654.8 129.1h0M654.8 127.8h0M655.0 132.1h0M654.6 131.0h0M655.4 135.1h0M655.5 133.7h0M654.9 130.6h0M655.2 131.4h0M655.4 125.9h0M655.5 130.8h0M654.4 132.5h0M660.4 122.2h0M659.5 131.1h0M659.4 125.9h0M659.5 123.9h0M659.1 134.6h0M659.6 132.5h0M660.3 129.0h0M660.4 132.6h0M659.3 133.2h0M659.5 135.1h0M660.5 133.3h0M659.3 133.6h0M659.9 120.3h0M660.2 130.1h0M660.2 132.2h0M659.2 130.6h0M660.2 135.4h0M660.2 135.3h0M660.4 133.1h0M659.2 135.2h0M659.2 130.7h0M659.4 127.3h0M658.7 125.6h0M659.1 129.4h0M665.3 132.9h0M664.7 131.6h0M663.7 133.5h0M664.6 135.3h0M664.2 130.3h0M665.3 133.1h0M665.2 134.2h0M664.9 132.6h0M663.8 131.9h0M665.1 134.7h0M664.8 130.4h0M665.1 121.4h0M665.3 132.9h0M664.7 131.9h0M664.9 134.6h0M663.8 133.9h0M663.8 131.6h0M665.4 121.4h0M664.0 128.3h0M664.3 132.0h0M665.0 124.3h0M665.2 133.6h0M664.2 134.5h0M664.3 132.2h0M664.3 129.8h0M664.0 124.4h0M664.3 130.6h0M671.0 130.1h0M669.5 121.4h0M669.7 129.9h0M669.9 132.0h0M670.5 125.4h0M670.0 133.4h0M670.1 130.9h0M671.1 130.5h0M669.9 134.8h0M669.5 134.8h0M671.1 129.5h0M671.3 130.4h0M671.6 126.5h0M671.6 121.0h0M671.2 128.6h0M671.2 134.8h0M670.7 134.0h0M669.9 130.8h0M672.0 133.4h0M671.8 125.4h0M670.6 134.5h0M672.1 125.5h0M672.3 129.9h0M671.9 123.7h0M670.7 122.1h0M669.9 124.7h0M671.4 130.9h0M670.3 132.1h0M671.0 130.2h0M671.8 131.2h0M670.9 131.9h0M672.2 128.3h0M672.1 128.3h0M672.5 129.1h0M669.8 134.0h0M671.6 134.5h0M670.3 123.6h0M669.9 124.9h0M669.4 132.6h0M669.8 121.2h0M670.0 124.7h0M669.4 122.6h0M365.7 92.2h0M367.4 96.3h0M395.3 101.1h0M389.3 111.9h0M366.1 112.6h0M368.3 115.3h0M357.6 114.5h0M349.2 113.8h0M344.5 114.2h0M339.1 113.5h0M377.8 115.3h0M400.0 113.8h0M402.2 116.7h0M371.5 117.9h0M356.9 117.9h0M457.0 103.3h0M475.5 105.5h0M477.0 108.7h0M477.4 113.8h0M490.2 27.1h0M490.2 31.0h0M490.7 42.0h0M490.6 49.1h0M489.9 50.7h0M489.4 57.3h0M490.6 63.8h0M489.8 66.1h0M490.4 71.7h0M489.8 74.3h0M490.6 79.5h0M490.1 81.7h0M489.1 85.3h0M491.3 89.7h0M490.3 96.3h0M529.4 102.4h0M525.7 116.0h0M532.6 113.8h0M535.2 116.7h0M539.5 113.8h0M564.7 104.7h0M565.1 111.3h0M565.9 116.0h0M581.9 105.0h0M582.7 110.1h0M584.1 113.1h0M586.3 115.0h0M603.8 113.8h0M607.9 115.0h0M602.4 117.4h0M608.1 114.8h0M603.7 114.2h0M619.2 117.4h0M631.4 94.9h0M631.4 102.4h0M631.6 115.1h0M670.1 104.5h0M665.5 108.0h0M660.8 110.8h0M670.7 113.3h0M664.5 113.8h0M490.3 95.9h0M486.4 101.2h0M487.3 100.6h0M484.6 112.3h0M485.6 113.2h0M486.2 114.5h0M492.8 124.5h0M492.6 117.1h0M492.3 114.2h0M488.4 123.1h0M487.1 123.9h0M487.4 123.6h0M487.8 118.8h0M493.0 123.4h0M492.5 114.9h0M488.3 116.5h0M486.8 122.2h0M492.0 118.5h0M489.0 119.1h0M491.1 121.9h0M489.6 123.5h0M488.7 122.7h0M486.6 123.8h0M487.5 120.7h0M491.5 112.9h0M491.2 117.3h0M491.1 125.8h0M493.1 123.2h0M492.8 122.2h0M492.2 119.1h0M492.8 120.9h0M488.2 116.5h0M491.4 118.2h0M491.8 123.2h0M489.2 117.5h0M491.7 118.3h0M485.3 120.6h0M481.1 122.7h0M482.5 122.0h0M483.8 120.9h0M488.4 124.4h0M482.5 125.8h0M487.8 125.0h0M483.5 121.7h0M485.8 124.1h0M483.9 124.1h0M480.0 124.2h0M480.6 122.7h0M488.4 125.6h0M481.9 120.2h0" fill="none" stroke="#CD8500" stroke-width="2.85" stroke-linecap="round"/>
<path d="M487.8 101.2 L490.8 100.8 L491.2 108.0 L491.5 113.0 L492.6 118.0 L493.2 125.0 L487.0 125.0 L487.2 116.0 L488.2 110.0 L488.3 104.0Z" fill="#CD8500" stroke="#CD8500" stroke-width="2" stroke-linejoin="round"/>
<line x1="234.5" y1="70.55" x2="685" y2="70.55" stroke="#e05858" stroke-width="1.2"/>
<line x1="234.5" y1="88.15" x2="685" y2="88.15" stroke="#70e070" stroke-width="1.2"/>
<line x1="234.5" y1="15.8" x2="234.5" y2="149.4" stroke="#a0a0a0" stroke-width="1"/>
<line x1="231.8" y1="149.4" x2="234.5" y2="149.4" stroke="#808080" stroke-width="1"/>
<text x="229.4" y="152.7" font-size="9" text-anchor="end">0</text>
<line x1="231.8" y1="122.7" x2="234.5" y2="122.7" stroke="#808080" stroke-width="1"/>
<text x="229.4" y="126.0" font-size="9" text-anchor="end">2</text>
<line x1="231.8" y1="96.0" x2="234.5" y2="96.0" stroke="#808080" stroke-width="1"/>
<text x="229.4" y="99.2" font-size="9" text-anchor="end">4</text>
<line x1="231.8" y1="69.2" x2="234.5" y2="69.2" stroke="#808080" stroke-width="1"/>
<text x="229.4" y="72.5" font-size="9" text-anchor="end">6</text>
<line x1="231.8" y1="42.5" x2="234.5" y2="42.5" stroke="#808080" stroke-width="1"/>
<text x="229.4" y="45.8" font-size="9" text-anchor="end">8</text>
<line x1="231.8" y1="15.8" x2="234.5" y2="15.8" stroke="#808080" stroke-width="1"/>
<text x="229.4" y="19.0" font-size="9" text-anchor="end">10</text>
<g transform="translate(215.30 102.34) rotate(-90)"><text x="0.00" y="0.00" font-size="9">−</text><text x="6.54" y="0.00" font-size="9">log</text><text x="18.67" y="1.40" font-size="6.2">10</text><text x="25.48" y="0.00" font-size="9">(</text><text x="28.96" y="0.00" font-size="9">p</text><text x="35.59" y="0.00" font-size="9">)</text></g>
<line x1="291.2" y1="149.8" x2="291.2" y2="152.5" stroke="#999" stroke-width="0.9"/>
<text x="291.2" y="160.1" font-size="9" text-anchor="middle">1</text>
<line x1="369.1" y1="149.8" x2="369.1" y2="152.5" stroke="#999" stroke-width="0.9"/>
<text x="369.1" y="160.1" font-size="9" text-anchor="middle">2</text>
<line x1="429.3" y1="149.8" x2="429.3" y2="152.5" stroke="#999" stroke-width="0.9"/>
<text x="429.3" y="160.1" font-size="9" text-anchor="middle">3</text>
<line x1="477.3" y1="149.8" x2="477.3" y2="152.5" stroke="#999" stroke-width="0.9"/>
<text x="477.3" y="160.1" font-size="9" text-anchor="middle">4</text>
<line x1="510.2" y1="149.8" x2="510.2" y2="152.5" stroke="#999" stroke-width="0.9"/>
<text x="510.2" y="160.1" font-size="9" text-anchor="middle">5</text>
<line x1="532.8" y1="149.8" x2="532.8" y2="152.5" stroke="#999" stroke-width="0.9"/>
<text x="532.8" y="160.1" font-size="9" text-anchor="middle">6</text>
<line x1="549.2" y1="149.8" x2="549.2" y2="152.5" stroke="#999" stroke-width="0.9"/>
<text x="549.2" y="160.1" font-size="9" text-anchor="middle">7</text>
<line x1="564.4" y1="149.8" x2="564.4" y2="152.5" stroke="#999" stroke-width="0.9"/>
<text x="564.4" y="160.1" font-size="9" text-anchor="middle">8</text>
<line x1="576.4" y1="149.8" x2="576.4" y2="152.5" stroke="#999" stroke-width="0.9"/>
<line x1="586.4" y1="149.8" x2="586.4" y2="152.5" stroke="#999" stroke-width="0.9"/>
<text x="586.4" y="160.1" font-size="9" text-anchor="middle">10</text>
<line x1="595.4" y1="149.8" x2="595.4" y2="152.5" stroke="#999" stroke-width="0.9"/>
<line x1="604.5" y1="149.8" x2="604.5" y2="152.5" stroke="#999" stroke-width="0.9"/>
<text x="604.5" y="160.1" font-size="9" text-anchor="middle">12</text>
<line x1="613.8" y1="149.8" x2="613.8" y2="152.5" stroke="#999" stroke-width="0.9"/>
<line x1="620.5" y1="149.8" x2="620.5" y2="152.5" stroke="#999" stroke-width="0.9"/>
<line x1="627.8" y1="149.8" x2="627.8" y2="152.5" stroke="#999" stroke-width="0.9"/>
<text x="627.8" y="160.1" font-size="9" text-anchor="middle">15</text>
<line x1="631.6" y1="149.8" x2="631.6" y2="152.5" stroke="#999" stroke-width="0.9"/>
<line x1="633.5" y1="149.8" x2="633.5" y2="152.5" stroke="#999" stroke-width="0.9"/>
<line x1="638.6" y1="149.8" x2="638.6" y2="152.5" stroke="#999" stroke-width="0.9"/>
<line x1="643.5" y1="149.8" x2="643.5" y2="152.5" stroke="#999" stroke-width="0.9"/>
<line x1="648.6" y1="149.8" x2="648.6" y2="152.5" stroke="#999" stroke-width="0.9"/>
<text x="648.6" y="160.1" font-size="9" text-anchor="middle">20</text>
<line x1="653.4" y1="149.8" x2="653.4" y2="152.5" stroke="#999" stroke-width="0.9"/>
<line x1="656.4" y1="149.8" x2="656.4" y2="152.5" stroke="#999" stroke-width="0.9"/>
<line x1="658.7" y1="149.8" x2="658.7" y2="152.5" stroke="#999" stroke-width="0.9"/>
<line x1="661.0" y1="149.8" x2="661.0" y2="152.5" stroke="#999" stroke-width="0.9"/>
<line x1="663.1" y1="149.8" x2="663.1" y2="152.5" stroke="#999" stroke-width="0.9"/>
<line x1="665.7" y1="149.8" x2="665.7" y2="152.5" stroke="#999" stroke-width="0.9"/>
<line x1="667.7" y1="149.8" x2="667.7" y2="152.5" stroke="#999" stroke-width="0.9"/>
<text x="667.7" y="160.1" font-size="9" text-anchor="middle">27</text>
<line x1="670.1" y1="149.8" x2="670.1" y2="152.5" stroke="#999" stroke-width="0.9"/>
<text x="459.2" y="170.5" font-size="9" text-anchor="middle">Chromosome</text>
<text x="207.6" y="189.5" font-size="14">D</text>
<rect x="245.8" y="313.3" width="90.2" height="15.8" fill="#000080"/>
<rect x="336.0" y="313.3" width="68.3" height="15.8" fill="#CD8500"/>
<rect x="404.3" y="313.3" width="50.7" height="15.8" fill="#000080"/>
<rect x="455.0" y="313.3" width="41.0" height="15.8" fill="#CD8500"/>
<rect x="496.0" y="313.3" width="27.6" height="15.8" fill="#000080"/>
<rect x="523.6" y="313.3" width="16.3" height="15.8" fill="#CD8500"/>
<rect x="539.9" y="313.3" width="16.6" height="15.8" fill="#000080"/>
<rect x="556.5" y="313.3" width="13.4" height="15.8" fill="#CD8500"/>
<rect x="569.9" y="313.3" width="11.2" height="15.8" fill="#000080"/>
<rect x="581.1" y="313.3" width="8.9" height="15.8" fill="#CD8500"/>
<rect x="590.0" y="313.3" width="9.2" height="15.8" fill="#000080"/>
<rect x="599.2" y="313.3" width="9.5" height="15.8" fill="#CD8500"/>
<rect x="608.7" y="313.3" width="8.2" height="15.8" fill="#000080"/>
<rect x="616.9" y="313.3" width="6.9" height="15.8" fill="#CD8500"/>
<rect x="623.8" y="313.3" width="5.5" height="15.8" fill="#000080"/>
<rect x="629.3" y="313.3" width="0.8" height="15.8" fill="#CD8500"/>
<rect x="630.1" y="313.3" width="4.9" height="15.8" fill="#000080"/>
<rect x="635.0" y="313.3" width="4.9" height="15.8" fill="#CD8500"/>
<rect x="639.9" y="313.3" width="4.9" height="15.8" fill="#000080"/>
<rect x="644.8" y="313.3" width="6.0" height="15.8" fill="#CD8500"/>
<rect x="650.8" y="313.3" width="3.1" height="15.8" fill="#000080"/>
<rect x="653.9" y="313.3" width="2.2" height="15.8" fill="#CD8500"/>
<rect x="656.1" y="313.3" width="2.4" height="15.8" fill="#000080"/>
<rect x="658.5" y="313.3" width="2.6" height="15.8" fill="#CD8500"/>
<rect x="661.1" y="313.3" width="2.0" height="15.8" fill="#000080"/>
<rect x="663.1" y="313.3" width="2.9" height="15.8" fill="#CD8500"/>
<rect x="666.0" y="313.3" width="2.8" height="15.8" fill="#000080"/>
<rect x="668.8" y="313.3" width="4.4" height="15.8" fill="#CD8500"/>
<path d="M330.8 300.1h0M254.0 314.4h0M311.9 306.3h0M273.8 309.5h0M300.4 310.3h0M260.5 310.6h0M281.4 312.0h0M334.9 308.7h0M294.8 300.8h0M270.3 311.9h0M248.8 314.5h0M274.7 311.7h0M325.8 312.4h0M296.3 311.2h0M248.5 313.4h0M258.6 312.8h0M335.3 311.3h0M262.6 309.4h0M317.3 304.2h0M327.1 308.5h0M316.7 308.0h0M333.7 312.6h0M260.7 299.5h0M310.0 308.1h0M293.6 311.8h0M328.7 311.5h0M320.4 311.4h0M325.0 312.6h0M287.4 304.0h0M328.3 310.8h0M289.7 308.7h0M275.3 313.5h0M261.2 309.1h0M270.3 303.6h0M274.0 303.4h0M309.3 300.0h0M292.5 311.4h0M298.7 309.8h0M264.9 312.9h0M329.5 311.3h0M253.1 310.1h0M311.0 306.7h0M263.4 303.6h0M251.6 308.3h0M270.7 309.7h0M324.3 313.5h0M292.9 314.1h0M268.2 305.7h0M324.8 313.6h0M310.2 312.1h0M278.6 314.5h0M306.3 313.8h0M331.4 314.2h0M311.3 314.5h0M269.2 314.6h0M260.4 306.8h0M307.9 313.7h0M250.2 312.4h0M249.6 313.9h0M301.2 312.7h0M256.5 308.3h0M249.1 312.7h0M314.6 311.9h0M326.7 308.4h0M323.2 308.1h0M288.5 309.0h0M305.2 313.5h0M255.5 312.9h0M324.3 311.9h0M298.5 314.0h0M292.2 312.3h0M331.8 313.9h0M300.3 313.3h0M248.0 312.1h0M258.9 310.9h0M249.4 314.4h0M254.9 313.8h0M291.6 310.0h0M334.9 302.0h0M286.0 313.4h0M299.0 313.3h0M317.6 310.1h0M269.2 308.9h0M293.2 312.1h0M249.6 314.6h0M256.3 312.2h0M267.8 308.7h0M262.6 314.2h0M265.7 313.4h0M287.7 311.2h0M303.5 312.9h0M327.1 313.5h0M311.3 299.3h0M291.9 312.0h0M251.0 310.6h0M293.1 312.1h0M254.7 313.7h0M279.0 307.1h0M328.4 311.2h0M272.2 310.3h0M248.1 312.5h0M255.4 309.3h0M321.2 313.0h0M247.8 309.5h0M283.0 311.9h0M264.9 311.6h0M253.0 310.5h0M279.6 313.1h0M253.2 301.9h0M263.5 308.1h0M281.3 310.7h0M313.5 311.8h0M257.2 312.3h0M253.6 314.0h0M303.4 305.8h0M308.0 299.7h0M305.1 314.5h0M310.8 307.7h0M278.2 311.4h0M317.5 311.8h0M293.2 313.2h0M331.4 311.6h0M329.4 307.1h0M272.8 306.2h0M289.9 313.4h0M284.5 313.3h0M328.2 309.4h0M319.2 310.6h0M278.1 314.2h0M283.5 313.9h0M254.1 314.3h0M334.4 304.2h0M257.8 309.8h0M267.0 313.0h0M307.0 309.5h0M293.0 312.0h0M294.5 314.1h0M313.7 300.7h0M292.4 314.2h0M269.3 308.8h0M287.4 304.2h0M282.4 309.0h0M297.4 307.6h0M285.7 313.9h0M299.4 314.5h0M262.5 304.7h0M289.3 311.3h0M309.6 312.2h0M309.2 301.8h0M332.0 311.7h0M312.8 312.8h0M314.2 309.7h0M266.4 305.8h0M282.2 310.1h0M333.4 309.5h0M247.4 310.0h0M309.7 311.7h0M304.3 304.7h0M247.9 306.8h0M311.3 301.3h0M327.0 310.3h0M255.3 304.6h0M314.7 306.8h0M312.6 313.6h0M263.4 310.5h0M258.7 307.1h0M285.1 310.2h0M296.8 313.3h0M264.6 311.7h0M252.9 298.8h0M289.6 314.6h0M305.0 306.2h0M289.6 308.1h0M276.2 309.4h0M291.2 313.2h0M253.5 314.5h0M261.9 308.1h0M316.2 308.2h0M306.5 312.2h0M323.3 307.5h0M260.9 314.0h0M287.8 312.4h0M247.3 313.0h0M332.5 310.9h0M294.3 312.5h0M285.8 312.4h0M273.9 305.1h0M289.5 309.8h0M327.8 311.1h0M319.8 314.3h0M303.9 313.0h0M304.6 307.3h0M321.2 312.3h0M302.8 314.2h0M293.6 312.3h0M317.4 305.8h0M273.8 310.0h0M287.1 313.4h0M271.1 313.4h0M256.4 299.9h0M280.2 306.7h0M274.7 312.5h0M287.1 314.3h0M285.7 313.8h0M326.0 313.0h0M285.7 302.8h0M329.1 309.9h0M255.3 312.8h0M263.3 313.4h0M279.7 309.4h0M317.2 312.6h0M318.4 313.4h0M282.0 310.0h0M276.9 306.6h0M328.8 304.8h0M307.8 311.4h0M312.5 300.8h0M323.8 308.2h0M313.5 301.9h0M272.4 296.7h0M306.1 310.1h0M281.6 312.5h0M331.6 313.8h0M288.8 312.6h0M263.0 304.2h0M257.7 299.6h0M277.6 314.5h0M328.1 312.6h0M314.2 304.7h0M294.7 312.0h0M320.6 313.4h0M271.7 312.4h0M259.8 309.9h0M328.8 312.9h0M259.1 314.2h0M268.7 313.6h0M268.7 312.1h0M268.3 312.7h0M300.7 313.4h0M279.6 312.7h0M251.9 307.9h0M322.1 313.9h0M315.7 312.0h0M292.9 314.0h0M276.5 306.0h0M300.7 307.9h0M335.2 312.3h0M288.6 312.3h0M274.6 310.2h0M299.6 306.2h0M294.3 310.5h0M286.9 306.1h0M293.1 312.2h0M256.0 314.4h0M329.8 314.0h0M327.8 309.4h0M273.6 314.3h0M247.2 307.2h0M277.6 314.1h0M259.5 313.8h0M254.6 309.5h0M304.2 298.1h0M326.4 314.4h0M289.3 313.4h0M258.7 310.8h0M251.8 311.4h0M328.2 313.6h0M292.9 306.6h0M324.3 309.3h0M290.2 314.0h0M256.8 314.0h0M265.2 314.1h0M265.6 314.4h0M301.8 312.4h0M326.9 305.6h0M291.5 308.8h0M260.9 303.1h0M319.2 314.1h0M265.1 310.1h0M272.9 312.4h0M284.5 312.0h0M317.4 312.3h0M296.5 306.9h0M271.7 311.7h0M334.2 307.9h0M309.0 313.4h0M305.0 309.1h0M295.5 314.5h0M263.7 313.6h0M303.8 310.6h0M312.5 310.1h0M288.7 309.0h0M315.1 314.4h0M320.8 306.6h0M249.8 310.4h0M256.0 313.6h0M294.8 310.0h0M331.5 313.7h0M326.4 296.9h0M272.4 311.8h0M319.7 313.6h0M271.1 309.0h0M297.0 303.8h0M283.4 312.2h0M286.9 308.7h0M257.3 309.6h0M270.6 309.0h0M265.5 303.4h0M294.3 312.8h0M293.2 312.3h0M264.3 302.7h0M308.1 307.8h0M286.2 307.5h0M277.2 311.8h0M269.1 311.7h0M288.8 313.7h0M288.2 313.7h0M273.9 310.7h0M300.3 313.8h0M266.2 305.5h0M305.0 310.2h0M307.1 304.6h0M264.9 312.9h0M273.0 306.2h0M323.9 314.6h0M274.3 313.6h0M269.2 312.9h0M276.9 308.7h0M283.7 312.0h0M248.0 306.3h0M258.1 310.6h0M300.4 313.9h0M252.2 312.5h0M327.8 310.5h0M290.5 309.8h0M327.9 307.2h0M273.0 313.9h0M328.8 299.1h0M309.0 313.6h0M299.0 305.0h0M293.0 309.0h0M265.4 313.4h0M305.6 314.4h0M301.7 314.0h0M285.2 312.3h0M281.3 298.3h0M280.2 311.7h0M266.3 313.5h0M319.2 311.1h0M330.6 314.2h0M251.2 309.4h0M282.1 308.9h0M255.4 311.3h0M292.7 311.3h0M298.1 307.6h0M311.8 309.0h0M248.6 313.5h0M257.9 311.6h0M275.0 313.9h0M301.2 311.1h0M330.3 309.8h0M296.1 314.2h0M306.0 314.2h0M258.9 312.0h0M305.2 312.9h0M330.5 311.7h0M276.7 312.6h0M300.3 302.8h0M316.2 314.1h0M330.7 312.6h0M318.0 310.0h0M291.7 304.1h0M248.7 298.8h0M321.0 312.7h0M306.2 314.6h0M323.1 308.8h0M294.5 314.3h0M285.2 310.3h0M316.8 312.1h0M250.4 313.8h0M332.4 310.5h0M306.3 306.5h0M326.9 313.0h0M268.4 314.5h0M326.0 307.4h0M327.3 312.3h0M299.5 314.1h0M267.2 314.3h0M247.0 313.7h0M290.9 312.2h0M304.4 313.1h0M292.5 314.4h0M282.3 311.2h0M257.7 303.2h0M287.3 312.1h0M333.1 312.5h0M292.4 310.7h0M285.3 312.0h0M317.5 300.6h0M260.9 309.8h0M257.8 310.5h0M248.4 312.6h0M333.4 309.0h0M297.1 309.9h0M285.8 313.3h0M284.0 311.7h0M265.9 313.2h0M331.2 308.2h0M301.7 306.6h0M273.3 314.5h0M333.0 306.1h0M297.0 311.0h0M268.4 309.3h0M278.9 308.9h0M287.5 305.9h0M295.9 309.6h0M287.4 311.1h0M313.6 300.5h0M291.4 312.1h0M312.9 304.0h0M331.7 309.7h0M299.6 314.1h0M286.9 310.1h0M332.5 299.3h0M301.3 312.3h0M308.4 307.9h0M317.4 312.6h0M259.5 312.7h0M304.2 309.6h0M290.8 312.2h0M282.6 307.0h0M297.2 303.4h0M304.0 312.2h0M326.2 307.5h0M305.8 309.5h0M250.0 312.3h0M256.6 311.8h0M278.7 301.4h0M311.7 310.3h0M320.6 313.7h0M253.6 312.8h0M282.2 310.4h0M286.0 303.0h0M248.0 314.2h0M290.3 314.5h0M251.0 308.8h0M289.0 312.8h0M332.8 304.1h0M303.3 305.0h0M266.2 310.7h0M261.2 310.2h0M320.3 313.0h0M311.0 310.7h0M271.3 311.7h0M297.4 311.4h0M321.6 313.4h0M262.5 296.2h0M318.6 313.4h0M266.4 308.7h0M267.6 310.6h0M298.7 305.4h0M260.8 311.3h0M288.5 312.2h0M262.4 312.6h0M308.7 313.6h0M321.5 302.6h0M316.8 310.2h0M265.1 314.0h0M246.5 309.0h0M315.7 314.2h0M262.9 313.6h0M320.9 312.3h0M324.5 314.6h0M297.2 313.0h0M257.2 311.7h0M262.1 299.9h0M324.6 307.1h0M331.9 311.8h0M259.6 314.3h0M253.0 311.6h0M293.3 307.0h0M271.9 307.2h0M325.6 314.5h0M283.5 313.6h0M298.6 314.0h0M264.0 311.8h0M276.5 314.5h0M260.1 307.5h0M301.5 313.4h0M318.0 310.0h0M322.0 309.8h0M328.5 313.9h0M257.0 314.5h0M315.4 314.1h0M328.4 311.4h0M331.1 297.5h0M277.7 310.2h0M311.6 300.0h0M295.6 313.6h0M248.0 314.6h0M310.4 309.9h0M313.4 305.5h0M312.1 314.0h0M306.6 296.2h0M272.6 311.6h0M302.1 314.3h0M256.6 299.5h0M326.3 306.7h0M321.7 312.6h0M273.2 313.9h0M324.7 310.8h0M254.3 311.1h0M297.3 302.3h0M266.9 307.6h0M254.4 312.8h0M285.3 313.7h0M304.9 312.2h0M276.1 306.3h0M304.5 302.6h0M262.8 312.7h0M304.9 300.1h0M307.3 314.4h0M283.9 312.4h0M266.3 307.9h0M294.5 313.2h0M254.1 303.7h0M310.5 306.3h0M305.3 313.7h0M309.6 310.1h0M274.3 311.1h0M267.6 311.4h0M282.5 311.8h0M267.1 314.1h0M281.4 312.7h0M312.9 310.8h0M295.8 313.3h0M266.6 312.7h0M331.8 314.0h0M320.3 302.1h0M259.8 313.8h0M273.1 314.1h0M247.1 312.1h0M307.7 312.1h0M263.3 306.3h0M317.2 314.6h0M274.3 312.4h0M270.3 313.9h0M269.3 313.2h0M292.5 313.4h0M273.9 306.9h0M289.4 312.1h0M314.6 306.1h0M318.1 313.8h0M297.7 313.0h0M297.6 311.2h0M252.8 312.8h0M328.9 314.6h0M287.3 304.5h0M321.0 314.2h0M288.3 311.4h0M265.9 305.2h0M311.8 298.1h0M332.9 303.3h0M325.8 302.6h0M252.7 305.1h0M259.0 298.1h0M312.0 302.6h0M266.0 300.6h0M250.2 298.7h0M326.3 302.1h0M273.3 302.3h0M316.8 299.9h0M319.8 302.0h0M269.1 302.7h0M269.7 304.4h0M301.6 305.8h0M327.4 303.6h0M316.1 305.7h0M275.2 304.9h0M331.6 304.3h0M288.0 301.1h0M250.6 305.0h0M333.1 303.8h0M306.5 303.2h0M250.6 296.0h0M283.6 304.1h0M280.5 304.8h0M258.4 300.6h0M272.8 300.4h0M261.9 300.9h0M283.7 298.7h0M332.5 297.6h0M248.3 301.9h0M333.3 303.8h0M313.9 301.0h0M330.1 302.9h0M298.9 301.5h0M247.0 305.4h0M310.5 304.9h0M321.8 303.4h0M321.7 309.2h0M320.8 312.2h0M321.1 303.3h0M255.8 306.9h0M255.6 310.1h0M256.6 305.5h0M294.4 312.1h0M267.5 311.8h0M267.2 311.9h0M325.9 311.4h0M271.2 305.1h0M272.1 310.3h0M272.1 309.9h0M271.3 311.3h0M265.5 312.2h0M264.9 309.8h0M272.2 302.6h0M272.8 302.3h0M272.6 311.1h0M272.1 307.0h0M277.5 298.5h0M277.9 305.5h0M277.8 304.0h0M278.1 302.6h0M278.6 309.8h0M277.6 305.0h0M259.7 311.5h0M304.2 311.3h0M304.7 311.7h0M299.8 310.5h0M298.8 312.2h0M257.5 309.8h0M256.5 311.7h0M321.4 312.4h0M299.6 305.7h0M299.2 306.9h0M298.9 305.9h0M327.9 311.0h0M327.5 305.4h0M328.1 308.5h0M327.2 303.0h0M328.0 308.1h0M306.7 312.6h0M255.2 305.0h0M256.0 307.6h0M256.7 305.9h0M275.8 311.0h0M271.5 303.8h0M271.6 307.7h0M272.2 304.0h0M270.2 309.1h0M301.5 306.3h0M301.6 300.5h0M301.1 305.5h0M301.8 307.1h0M301.3 301.0h0M301.9 302.0h0M305.8 304.7h0M305.2 306.5h0M306.3 304.8h0M305.9 307.4h0M282.3 311.9h0M333.1 303.8h0M334.4 304.2h0M334.6 303.9h0M333.9 304.8h0M281.8 308.9h0M281.6 309.2h0M252.4 310.3h0M251.9 310.1h0M415.7 306.8h0M419.9 302.0h0M428.3 312.8h0M430.5 314.2h0M410.7 301.0h0M425.1 298.7h0M431.7 313.3h0M421.4 314.2h0M419.7 308.0h0M418.9 308.4h0M440.5 308.2h0M427.7 310.7h0M410.0 313.5h0M422.0 311.3h0M410.5 306.0h0M421.5 314.2h0M441.4 311.0h0M417.6 310.0h0M437.8 314.3h0M443.8 314.1h0M449.6 310.1h0M427.7 312.0h0M410.1 309.9h0M434.3 305.8h0M408.3 309.2h0M412.3 313.1h0M423.9 312.8h0M428.1 302.3h0M425.7 310.8h0M408.3 312.2h0M429.0 309.4h0M442.2 313.6h0M448.6 314.6h0M446.3 311.0h0M411.5 311.4h0M415.6 311.6h0M405.4 310.9h0M444.2 309.2h0M422.2 310.8h0M424.4 309.4h0M449.7 298.8h0M444.7 312.0h0M450.9 313.3h0M404.9 309.5h0M423.7 309.9h0M410.7 309.8h0M451.4 312.7h0M430.0 310.7h0M410.7 309.4h0M424.9 314.0h0M428.1 312.6h0M409.0 310.9h0M445.2 313.1h0M436.1 308.2h0M437.6 314.4h0M415.2 314.2h0M453.8 313.3h0M420.3 312.6h0M425.6 314.2h0M421.9 307.4h0M410.6 312.1h0M410.3 313.8h0M446.9 306.3h0M433.3 311.7h0M439.0 312.3h0M422.2 313.5h0M422.0 308.6h0M404.9 311.7h0M447.8 311.6h0M426.8 313.7h0M448.5 310.9h0M440.5 314.6h0M439.9 314.3h0M436.3 301.7h0M418.6 314.5h0M449.3 311.7h0M417.2 312.0h0M441.2 308.3h0M442.9 310.2h0M414.5 304.8h0M445.5 314.5h0M448.0 310.1h0M410.9 306.0h0M447.0 313.2h0M443.8 310.9h0M405.6 303.6h0M408.5 313.3h0M424.1 313.5h0M415.7 303.2h0M426.0 311.5h0M438.4 300.4h0M409.3 312.2h0M411.0 313.2h0M413.7 313.0h0M412.6 314.5h0M429.6 310.4h0M440.6 310.6h0M434.5 313.7h0M453.3 310.5h0M415.7 312.2h0M440.0 313.5h0M419.6 307.0h0M451.0 306.6h0M409.6 312.4h0M417.5 302.6h0M429.6 312.3h0M408.5 311.9h0M409.3 312.6h0M410.5 311.6h0M431.5 310.3h0M445.5 302.9h0M444.2 310.2h0M445.1 312.3h0M446.0 310.1h0M438.1 305.0h0M405.6 303.9h0M429.0 302.1h0M416.4 311.4h0M432.4 312.9h0M405.3 312.6h0M412.8 312.7h0M440.6 314.2h0M454.4 308.0h0M440.9 308.5h0M449.2 310.2h0M429.9 306.0h0M433.4 299.0h0M419.4 312.2h0M432.3 310.1h0M428.3 312.9h0M448.0 312.1h0M408.5 314.0h0M431.9 311.4h0M426.9 314.5h0M414.4 314.0h0M405.8 307.7h0M429.0 313.6h0M443.7 306.6h0M430.2 311.3h0M431.6 306.9h0M426.6 307.5h0M450.5 314.0h0M433.2 313.5h0M429.4 309.4h0M407.9 312.5h0M408.8 312.0h0M426.9 311.0h0M422.7 314.3h0M418.4 311.9h0M419.6 300.6h0M406.7 314.3h0M426.3 314.3h0M427.2 314.5h0M417.7 302.7h0M431.4 309.0h0M426.5 313.8h0M426.6 314.6h0M410.7 314.1h0M423.4 311.8h0M412.6 313.7h0M452.5 313.1h0M420.2 299.1h0M428.8 314.5h0M416.9 304.5h0M418.3 312.1h0M418.9 314.3h0M419.2 311.1h0M440.6 312.4h0M408.9 311.5h0M447.5 314.2h0M424.4 313.8h0M453.2 309.2h0M441.9 311.2h0M444.5 310.2h0M415.6 311.7h0M435.8 311.0h0M434.1 313.9h0M423.7 311.8h0M423.0 311.5h0M453.7 312.5h0M428.4 312.9h0M419.4 314.6h0M429.8 306.9h0M450.1 309.3h0M451.9 309.2h0M415.1 305.4h0M406.0 310.1h0M449.6 309.9h0M448.7 308.6h0M443.3 310.7h0M418.9 313.4h0M411.4 314.2h0M410.0 307.7h0M418.1 307.8h0M452.8 306.0h0M433.4 314.5h0M427.8 309.6h0M429.6 314.5h0M430.7 309.0h0M431.8 313.8h0M413.6 314.5h0M428.7 312.8h0M417.7 312.5h0M409.9 301.9h0M441.9 313.8h0M447.5 312.9h0M429.8 305.9h0M423.7 310.0h0M453.0 308.2h0M423.2 310.1h0M405.2 303.1h0M452.0 308.1h0M436.4 313.4h0M424.5 314.1h0M409.2 301.3h0M412.6 313.7h0M416.0 313.9h0M435.0 300.1h0M444.8 311.3h0M453.2 309.7h0M431.2 312.7h0M420.2 303.7h0M423.7 302.8h0M424.6 311.8h0M422.3 314.1h0M446.9 309.0h0M407.8 310.8h0M437.1 310.6h0M417.7 310.2h0M431.0 314.4h0M445.7 313.3h0M408.2 305.6h0M427.2 308.0h0M427.6 312.0h0M409.5 305.4h0M450.4 301.4h0M453.2 312.0h0M438.7 307.1h0M440.3 311.1h0M444.0 310.7h0M425.9 313.4h0M405.0 313.2h0M434.9 309.0h0M445.1 313.4h0M442.7 308.6h0M420.0 310.6h0M417.6 309.7h0M445.2 311.1h0M447.6 311.3h0M427.8 306.6h0M418.6 312.3h0M409.1 311.7h0M417.0 306.4h0M411.7 314.3h0M421.3 312.7h0M421.6 310.2h0M428.5 313.5h0M430.3 311.4h0M431.9 312.4h0M439.7 312.6h0M440.2 312.0h0M444.6 312.3h0M441.8 308.9h0M438.8 314.4h0M412.7 309.2h0M445.6 307.8h0M425.3 303.0h0M414.9 313.7h0M429.8 314.6h0M423.2 296.6h0M411.4 311.2h0M422.5 307.8h0M445.2 313.1h0M433.3 309.1h0M411.6 308.8h0M433.3 308.9h0M421.0 310.1h0M409.5 311.9h0M428.4 311.8h0M429.3 310.8h0M432.1 310.3h0M437.0 313.8h0M443.8 308.3h0M417.7 313.8h0M435.9 309.0h0M445.3 312.8h0M417.8 311.9h0M415.5 311.7h0M452.8 308.3h0M433.4 308.7h0M451.8 314.2h0M446.0 305.1h0M408.8 308.6h0M429.0 312.9h0M415.3 310.4h0M429.3 304.7h0M448.7 308.7h0M414.5 313.3h0M410.9 310.6h0M406.6 314.5h0M446.5 307.6h0M428.1 312.4h0M420.2 310.7h0M424.0 312.7h0M439.5 313.2h0M410.4 310.9h0M441.8 314.2h0M447.4 311.6h0M433.9 308.8h0M435.1 313.3h0M441.9 311.7h0M453.8 313.3h0M414.5 303.7h0M442.8 303.2h0M405.5 301.0h0M452.5 304.8h0M408.3 302.4h0M443.4 302.0h0M440.1 305.4h0M436.5 305.4h0M406.0 302.3h0M425.6 305.1h0M453.8 300.2h0M418.6 304.4h0M427.4 300.5h0M447.0 301.7h0M426.2 299.4h0M439.1 303.8h0M437.8 301.6h0M441.1 302.8h0M445.0 304.7h0M425.8 303.5h0M446.0 305.7h0M436.3 302.0h0M407.9 304.1h0M430.2 302.4h0M413.7 311.9h0M414.7 302.5h0M414.5 301.6h0M414.3 301.7h0M414.9 302.8h0M408.0 312.3h0M408.0 306.5h0M407.7 303.9h0M408.0 308.7h0M408.0 310.9h0M417.0 312.1h0M424.9 311.1h0M433.4 305.6h0M432.6 308.7h0M432.6 304.8h0M433.1 305.7h0M412.9 310.3h0M412.6 304.3h0M413.8 311.5h0M413.1 309.2h0M440.7 309.9h0M440.9 311.6h0M441.5 312.4h0M410.0 311.7h0M451.3 311.6h0M435.7 306.7h0M435.7 308.7h0M436.5 303.1h0M436.0 302.6h0M436.4 302.6h0M429.4 310.8h0M431.2 298.5h0M431.4 308.9h0M431.9 299.4h0M430.9 301.0h0M431.1 304.4h0M431.7 310.7h0M431.3 309.3h0M450.8 309.5h0M449.7 311.9h0M508.5 314.6h0M520.2 314.4h0M516.3 309.6h0M499.9 310.3h0M518.0 311.0h0M516.6 313.6h0M503.7 314.0h0M498.1 311.8h0M510.3 312.4h0M520.3 311.1h0M503.2 307.2h0M511.6 303.7h0M499.2 306.9h0M505.7 312.1h0M520.2 311.3h0M504.4 314.3h0M516.5 314.1h0M510.3 311.3h0M501.8 310.5h0M512.7 310.6h0M502.4 306.4h0M509.4 311.4h0M517.4 314.3h0M515.8 313.6h0M516.7 313.3h0M498.6 300.4h0M516.1 313.2h0M503.1 313.3h0M515.0 312.3h0M513.4 305.6h0M509.2 313.7h0M513.8 314.4h0M501.7 308.3h0M514.2 314.5h0M521.1 307.2h0M520.1 314.5h0M501.9 308.1h0M518.9 314.4h0M508.1 314.4h0M511.6 312.6h0M511.1 313.9h0M506.9 308.4h0M512.5 314.3h0M521.1 312.8h0M501.3 313.0h0M506.7 311.3h0M512.5 314.3h0M521.0 313.0h0M499.6 314.0h0M516.3 311.2h0M515.0 301.3h0M509.7 303.0h0M507.4 307.9h0M516.9 311.4h0M515.3 314.5h0M516.5 311.4h0M497.4 311.6h0M497.1 309.1h0M520.0 310.2h0M507.0 311.0h0M502.1 308.4h0M497.3 303.6h0M497.6 303.5h0M507.8 304.2h0M504.6 311.0h0M522.1 308.3h0M510.8 313.9h0M517.1 313.9h0M505.3 314.4h0M516.0 313.5h0M520.0 313.6h0M499.6 306.9h0M519.7 298.1h0M515.8 308.3h0M502.9 313.0h0M522.8 312.9h0M501.1 306.9h0M514.0 313.4h0M503.4 311.5h0M503.4 314.0h0M503.5 312.8h0M512.8 312.9h0M511.9 307.5h0M501.0 312.8h0M522.8 314.3h0M513.2 313.6h0M499.1 312.6h0M512.0 309.3h0M513.9 314.5h0M506.3 302.8h0M521.9 311.8h0M519.3 308.5h0M517.5 311.6h0M501.1 312.8h0M503.2 313.0h0M521.5 313.2h0M516.6 314.3h0M507.1 313.0h0M513.6 310.4h0M498.3 306.4h0M499.3 312.7h0M514.5 305.3h0M511.5 305.7h0M509.3 314.3h0M521.5 305.7h0M497.8 305.4h0M509.6 303.2h0M499.0 309.7h0M511.4 308.4h0M506.5 306.2h0M504.3 312.6h0M516.4 314.0h0M513.9 310.6h0M508.1 307.2h0M510.1 311.6h0M520.3 313.2h0M503.9 307.9h0M519.2 313.4h0M508.1 313.2h0M509.4 313.4h0M504.9 313.9h0M513.2 314.2h0M503.8 310.0h0M522.1 304.2h0M503.7 300.7h0M515.7 307.9h0M507.2 314.0h0M512.9 304.0h0M498.8 314.4h0M520.7 311.4h0M522.0 307.0h0M502.4 313.0h0M508.4 307.4h0M514.5 302.5h0M521.9 312.9h0M521.8 314.5h0M512.6 302.4h0M502.0 314.0h0M510.0 314.4h0M518.4 314.3h0M519.9 311.2h0M509.0 312.7h0M497.2 311.1h0M513.0 314.1h0M519.2 313.6h0M503.0 307.4h0M515.3 310.9h0M514.7 313.8h0M496.7 314.5h0M507.6 310.2h0M500.3 309.9h0M507.0 304.3h0M519.8 307.2h0M501.8 313.1h0M510.6 312.2h0M508.2 296.3h0M517.8 313.8h0M521.0 304.7h0M504.7 304.4h0M503.2 312.3h0M519.6 307.0h0M512.5 312.5h0M497.7 314.5h0M503.9 310.3h0M500.0 312.4h0M517.8 297.2h0M505.6 305.3h0M500.2 314.0h0M509.3 302.8h0M520.7 313.5h0M501.8 304.3h0M501.3 306.9h0M502.0 314.1h0M508.6 309.4h0M516.6 312.4h0M517.0 313.6h0M504.5 308.5h0M504.4 314.5h0M498.0 312.8h0M515.7 314.5h0M522.7 314.6h0M505.3 314.6h0M519.9 310.6h0M502.8 313.6h0M499.7 309.1h0M508.2 305.3h0M504.3 300.5h0M497.6 296.9h0M513.9 305.3h0M513.6 301.1h0M506.7 300.8h0M514.5 303.8h0M522.5 305.5h0M505.3 302.8h0M515.1 304.9h0M505.4 298.4h0M509.2 303.9h0M520.9 305.2h0M497.7 305.1h0M498.3 305.6h0M498.2 312.6h0M497.4 305.4h0M498.6 307.7h0M499.9 304.3h0M499.5 303.8h0M500.0 310.7h0M499.7 310.2h0M516.7 310.7h0M516.6 307.2h0M516.6 308.1h0M518.1 309.1h0M519.1 311.0h0M511.8 311.4h0M512.8 310.6h0M513.5 311.0h0M514.1 309.4h0M511.2 309.0h0M510.5 301.8h0M511.7 302.3h0M511.5 302.0h0M511.2 306.7h0M511.1 303.4h0M511.1 298.0h0M509.0 311.3h0M508.8 309.0h0M547.2 307.7h0M548.5 301.6h0M542.4 312.2h0M547.4 308.4h0M555.0 307.8h0M546.5 312.9h0M554.2 308.7h0M546.2 302.7h0M550.3 313.3h0M553.8 306.8h0M546.9 313.3h0M544.3 311.0h0M548.6 314.3h0M549.2 313.3h0M548.4 312.9h0M542.1 303.0h0M540.9 313.0h0M553.6 310.0h0M555.5 305.9h0M542.4 313.6h0M551.8 309.9h0M550.8 305.1h0M547.0 313.7h0M552.0 310.9h0M554.8 305.9h0M550.6 302.6h0M547.0 309.8h0M546.2 309.0h0M545.1 304.1h0M545.7 311.2h0M550.8 311.2h0M547.5 313.3h0M551.0 310.9h0M551.6 310.4h0M547.3 314.1h0M553.6 311.4h0M543.7 309.9h0M542.5 313.3h0M544.6 313.6h0M546.8 309.4h0M548.3 304.7h0M550.6 307.2h0M546.1 303.6h0M553.7 312.8h0M547.2 309.9h0M543.9 306.5h0M549.4 313.6h0M546.7 307.1h0M549.5 314.6h0M549.8 304.1h0M545.6 314.6h0M551.1 313.0h0M550.4 313.9h0M541.2 311.4h0M548.1 313.6h0M551.1 313.2h0M542.1 313.5h0M555.7 305.5h0M554.3 313.6h0M555.3 314.3h0M543.1 314.1h0M549.0 308.6h0M552.5 311.8h0M552.9 299.3h0M553.4 313.6h0M552.1 299.2h0M555.9 310.1h0M554.8 312.1h0M552.1 307.7h0M545.5 311.8h0M545.7 306.4h0M543.8 314.0h0M541.2 308.5h0M551.1 314.3h0M541.7 311.8h0M547.5 314.1h0M541.8 306.6h0M540.5 302.7h0M545.2 300.0h0M548.2 312.1h0M544.9 312.3h0M548.2 311.7h0M546.4 310.8h0M549.8 313.7h0M542.2 314.5h0M548.6 312.7h0M555.1 314.3h0M547.9 308.8h0M545.7 310.7h0M554.4 314.5h0M554.4 311.4h0M543.7 312.4h0M555.6 309.6h0M549.2 313.8h0M549.5 314.4h0M546.1 311.9h0M547.9 303.5h0M552.6 312.1h0M543.0 302.5h0M555.6 313.9h0M552.3 309.0h0M555.1 297.0h0M543.6 310.5h0M550.4 303.6h0M547.7 303.1h0M551.8 302.2h0M552.0 303.4h0M541.8 305.9h0M545.0 301.2h0M551.6 303.3h0M543.8 306.6h0M544.6 310.3h0M544.6 307.9h0M545.3 304.4h0M552.7 312.5h0M552.9 310.9h0M552.8 307.2h0M541.6 310.7h0M542.1 310.3h0M553.8 311.9h0M554.5 310.6h0M555.4 308.0h0M551.0 309.8h0M551.5 311.1h0M577.1 312.8h0M573.0 314.0h0M572.4 304.5h0M575.1 311.7h0M576.3 311.2h0M570.6 313.1h0M579.9 313.7h0M571.6 307.6h0M577.5 307.7h0M576.5 312.9h0M579.1 313.2h0M571.8 314.6h0M575.7 311.5h0M577.7 311.0h0M573.5 311.8h0M571.5 300.9h0M575.3 312.3h0M571.2 306.2h0M570.7 311.6h0M575.4 313.0h0M574.0 307.0h0M572.7 309.7h0M575.4 311.6h0M571.2 314.2h0M571.7 314.5h0M580.3 312.1h0M576.1 309.3h0M578.6 310.0h0M570.8 303.6h0M571.7 308.4h0M572.9 307.1h0M578.1 309.9h0M578.2 305.7h0M577.3 304.6h0M573.9 308.8h0M574.6 313.4h0M571.5 313.6h0M572.6 310.8h0M571.8 307.6h0M577.0 314.3h0M571.2 302.8h0M575.5 307.0h0M578.8 309.6h0M571.0 314.2h0M571.9 302.5h0M574.4 309.6h0M571.4 313.8h0M574.9 312.3h0M575.9 314.1h0M570.6 308.6h0M577.8 312.9h0M577.3 305.7h0M575.2 311.9h0M571.9 312.4h0M580.1 313.0h0M579.7 310.2h0M573.0 310.0h0M573.1 311.2h0M576.3 314.5h0M579.2 306.8h0M571.4 314.1h0M574.7 311.3h0M571.3 307.6h0M579.6 308.1h0M573.8 307.7h0M574.6 310.0h0M572.6 313.6h0M573.3 312.9h0M575.9 310.3h0M577.2 311.8h0M571.5 301.2h0M575.6 301.7h0M577.3 305.3h0M574.3 308.6h0M574.2 309.6h0M573.8 304.9h0M574.7 308.2h0M573.8 303.1h0M575.1 302.7h0M573.9 310.6h0M578.0 312.2h0M577.9 308.2h0M577.7 311.8h0M595.6 309.4h0M592.5 300.0h0M593.8 313.3h0M593.7 312.6h0M594.2 309.8h0M596.1 314.5h0M593.0 310.0h0M594.2 310.3h0M592.5 314.6h0M593.2 297.4h0M598.3 314.1h0M592.3 306.3h0M592.2 314.5h0M598.3 308.8h0M591.0 312.7h0M597.8 313.4h0M591.9 314.0h0M591.7 312.1h0M598.4 309.4h0M598.1 313.9h0M596.4 307.5h0M593.9 314.5h0M597.3 307.7h0M591.3 313.2h0M592.6 306.4h0M597.1 308.6h0M591.0 309.5h0M592.1 313.3h0M597.6 311.9h0M590.7 312.9h0M592.8 309.8h0M593.5 308.1h0M597.3 304.7h0M592.6 308.5h0M596.3 305.8h0M593.6 311.2h0M595.3 304.3h0M596.2 312.3h0M596.7 313.5h0M594.7 311.6h0M595.4 308.2h0M595.6 307.0h0M593.2 307.5h0M590.6 310.9h0M598.2 312.6h0M593.0 314.2h0M596.6 314.6h0M594.6 309.2h0M598.1 311.4h0M593.2 309.2h0M597.1 304.5h0M593.5 311.5h0M595.1 309.8h0M593.6 312.3h0M593.1 313.8h0M597.5 309.5h0M597.7 313.9h0M596.3 314.0h0M595.5 310.6h0M591.7 313.6h0M591.2 307.9h0M591.7 313.4h0M592.0 312.2h0M595.9 313.7h0M592.9 312.9h0M594.9 304.1h0M591.9 299.7h0M593.3 309.9h0M590.7 305.2h0M591.0 301.8h0M595.2 305.4h0M593.4 310.4h0M593.6 306.3h0M594.3 305.6h0M593.2 299.2h0M593.7 297.2h0M593.1 309.5h0M594.4 296.9h0M591.0 311.4h0M590.5 312.4h0M592.7 301.7h0M592.1 307.2h0M592.8 300.3h0M593.5 304.3h0M593.3 309.9h0M609.4 314.1h0M614.6 312.1h0M614.3 312.4h0M614.6 308.5h0M613.9 314.3h0M615.5 312.1h0M615.8 312.4h0M611.8 311.7h0M610.0 313.1h0M614.9 306.6h0M611.3 310.2h0M614.0 308.3h0M609.8 296.6h0M613.8 311.9h0M609.8 312.4h0M615.1 312.3h0M615.6 310.1h0M612.2 303.8h0M610.1 312.1h0M610.5 314.6h0M615.5 300.6h0M610.1 314.3h0M614.5 313.4h0M610.8 311.3h0M610.8 313.8h0M614.0 310.7h0M616.2 314.0h0M613.7 311.1h0M611.1 313.4h0M609.5 314.4h0M610.0 311.5h0M615.7 310.8h0M616.2 309.6h0M612.8 310.3h0M610.1 314.0h0M614.2 304.5h0M612.9 307.1h0M613.8 310.8h0M613.1 314.2h0M613.2 314.4h0M614.7 310.1h0M612.8 296.5h0M611.5 302.1h0M611.0 312.3h0M612.4 314.5h0M614.1 311.1h0M615.5 301.1h0M612.5 310.2h0M612.0 302.5h0M611.0 314.0h0M611.2 313.4h0M611.0 313.1h0M612.3 310.7h0M611.0 311.6h0M615.0 303.6h0M612.0 310.5h0M612.2 311.8h0M614.2 299.8h0M613.9 309.3h0M609.6 309.8h0M614.5 310.9h0M614.1 303.4h0M613.7 304.7h0M613.3 303.4h0M613.8 297.5h0M615.5 310.1h0M615.6 309.2h0M614.8 308.8h0M613.4 309.8h0M612.0 309.7h0M627.4 296.1h0M625.9 302.6h0M624.7 309.3h0M627.7 314.6h0M625.0 311.8h0M624.5 309.9h0M628.7 302.0h0M626.0 306.6h0M625.0 313.9h0M627.9 309.9h0M628.6 314.0h0M627.5 312.9h0M628.0 314.1h0M628.4 313.4h0M625.0 296.6h0M626.4 313.5h0M626.2 306.3h0M624.5 313.5h0M628.3 304.0h0M626.3 306.8h0M625.8 311.8h0M626.7 313.4h0M626.3 310.1h0M626.1 308.2h0M626.9 313.9h0M626.8 309.9h0M626.7 311.7h0M627.0 309.7h0M628.5 313.9h0M624.8 307.2h0M627.6 312.7h0M628.4 314.0h0M627.9 309.7h0M624.8 313.6h0M627.7 310.1h0M628.2 314.4h0M625.4 306.3h0M628.3 313.4h0M625.7 313.1h0M624.4 298.4h0M625.5 306.8h0M626.0 313.5h0M627.9 297.5h0M627.3 301.2h0M625.1 305.8h0M627.7 309.7h0M628.0 311.9h0M625.7 307.8h0M626.4 310.1h0M626.2 307.8h0M632.1 313.6h0M633.7 307.6h0M632.0 307.3h0M632.3 313.3h0M634.3 313.7h0M632.8 313.8h0M630.7 312.9h0M633.3 312.5h0M633.9 309.1h0M630.9 309.6h0M632.6 312.2h0M632.8 310.7h0M631.8 312.9h0M631.4 312.8h0M630.9 313.5h0M630.7 306.1h0M631.6 313.3h0M631.8 309.2h0M634.0 311.7h0M631.2 311.0h0M633.0 308.4h0M634.4 310.8h0M631.3 313.8h0M632.4 312.3h0M632.9 312.7h0M633.4 310.9h0M632.6 313.8h0M631.9 300.1h0M631.2 314.5h0M634.1 312.5h0M633.6 308.7h0M633.4 314.4h0M634.1 310.7h0M631.1 313.8h0M631.8 314.4h0M632.1 310.9h0M631.2 305.1h0M633.5 305.9h0M632.0 303.1h0M632.9 311.4h0M641.0 305.0h0M643.7 308.1h0M643.5 312.3h0M643.9 313.4h0M644.1 312.0h0M643.6 313.3h0M643.4 311.1h0M640.9 309.7h0M641.5 307.3h0M642.3 312.8h0M641.5 313.8h0M642.2 307.6h0M644.1 310.2h0M641.2 311.9h0M640.7 313.7h0M643.8 307.2h0M643.6 312.7h0M641.6 313.8h0M641.0 312.1h0M641.6 313.1h0M641.6 314.3h0M640.9 312.1h0M641.1 311.6h0M640.5 310.6h0M641.0 314.4h0M643.5 308.5h0M644.0 314.3h0M640.8 314.3h0M642.5 298.7h0M642.5 310.0h0M642.7 309.4h0M641.8 303.5h0M644.0 312.6h0M641.9 296.3h0M640.7 312.6h0M640.9 301.6h0M641.7 305.4h0M640.5 310.3h0M640.6 310.7h0M652.4 304.9h0M652.1 304.4h0M652.1 313.6h0M652.5 304.7h0M651.7 303.7h0M652.9 307.0h0M652.3 309.4h0M652.9 313.7h0M652.7 312.1h0M652.0 313.5h0M653.2 311.6h0M652.4 314.6h0M651.8 311.8h0M653.0 312.6h0M652.7 311.9h0M653.2 312.8h0M652.6 314.1h0M653.2 307.9h0M652.1 312.5h0M651.5 314.1h0M653.0 310.1h0M653.1 307.7h0M652.1 304.1h0M653.0 303.0h0M654.0 311.5h0M657.0 302.8h0M657.7 308.6h0M657.0 313.9h0M657.6 314.4h0M656.7 309.0h0M657.0 297.1h0M657.8 312.6h0M657.0 305.4h0M657.0 314.2h0M657.2 313.2h0M657.1 314.0h0M656.9 312.8h0M657.5 299.6h0M657.3 303.5h0M657.1 313.0h0M657.6 313.5h0M657.0 305.5h0M657.3 313.9h0M657.7 305.7h0M657.3 298.8h0M657.1 304.6h0M658.2 303.5h0M657.5 312.0h0M658.0 307.9h0M658.6 304.1h0M662.1 314.3h0M662.0 311.8h0M662.4 311.0h0M662.2 309.7h0M662.2 313.1h0M661.9 308.1h0M662.3 304.3h0M661.9 312.5h0M662.2 314.2h0M662.2 304.6h0M661.8 313.7h0M662.1 311.6h0M661.8 304.8h0M662.3 311.5h0M661.8 313.8h0M662.0 305.5h0M662.7 310.2h0M662.0 312.0h0M667.0 309.2h0M667.0 314.1h0M668.1 314.1h0M668.0 307.6h0M667.8 311.3h0M667.6 309.6h0M666.8 314.0h0M666.7 312.2h0M667.7 313.2h0M667.7 314.1h0M667.5 308.5h0M667.8 314.5h0M667.3 314.0h0M666.7 308.1h0M667.1 307.4h0M666.7 314.4h0M667.5 299.0h0M667.8 312.4h0M667.4 307.1h0M667.9 304.8h0M667.5 303.0h0M667.7 305.5h0M667.4 300.8h0M667.9 307.8h0M668.0 309.3h0M668.5 303.2h0M666.8 312.3h0M259.2 200.8h0M324.6 246.3h0M320.2 252.7h0M268.3 274.5h0M272.5 282.3h0M285.8 279.7h0M271.9 288.6h0M284.2 287.4h0M306.2 286.4h0M327.7 277.4h0M332.1 276.5h0M330.9 283.5h0M330.6 288.9h0M336.7 223.6h0M406.7 265.3h0M405.7 278.1h0M441.1 276.0h0M429.3 285.3h0M437.9 288.6h0M420.4 291.1h0M428.6 292.3h0M406.0 291.4h0M405.7 294.3h0M453.1 294.3h0M434.0 296.4h0M437.0 296.4h0M440.7 296.4h0M429.2 285.1h0M497.6 258.2h0M511.3 267.4h0M576.5 250.2h0M544.2 269.5h0M505.3 276.0h0M514.2 280.7h0M551.3 281.5h0M503.2 285.8h0M503.6 291.1h0M504.4 291.8h0M498.8 294.5h0M502.2 295.7h0M514.2 294.5h0M523.3 293.2h0M577.0 290.6h0M504.5 276.0h0M503.3 285.4h0M499.0 294.5h0M502.4 295.7h0M503.8 291.4h0M507.6 230.9h0M597.9 217.5h0M631.4 206.5h0M631.3 261.4h0M612.4 281.5h0M645.0 279.1h0M658.4 275.5h0M657.9 283.7h0M635.3 289.2h0M658.4 291.1h0M643.3 291.1h0M644.2 294.9h0M594.4 294.0h0M598.7 295.2h0M616.2 294.0h0M627.5 293.2h0M633.9 294.9h0M333.8 302.6h0M330.5 309.7h0M334.1 302.4h0M333.9 309.4h0M330.7 305.5h0M333.9 304.2h0M332.0 307.7h0M334.0 298.7h0M334.2 298.2h0M334.7 302.6h0M334.7 306.5h0M333.1 307.2h0M332.6 304.2h0M331.8 303.8h0M332.5 308.9h0M332.4 302.8h0M331.6 306.8h0M334.9 305.0h0" fill="none" stroke="#000080" stroke-width="2.85" stroke-linecap="round"/>
<path d="M370.0 313.7h0M342.2 312.7h0M373.6 312.0h0M343.5 305.8h0M336.9 313.1h0M354.5 313.6h0M399.6 306.7h0M369.0 313.5h0M369.5 311.2h0M400.4 299.8h0M364.0 314.5h0M380.2 311.2h0M391.6 311.1h0M367.5 314.2h0M348.1 306.4h0M378.0 313.8h0M373.2 313.9h0M349.1 314.0h0M389.1 312.8h0M377.4 310.3h0M363.2 310.1h0M376.5 297.3h0M341.1 310.0h0M375.9 313.3h0M383.8 300.1h0M390.8 314.4h0M376.6 313.5h0M340.7 313.7h0M369.2 307.8h0M383.9 310.3h0M364.5 310.5h0M372.2 312.8h0M354.2 313.3h0M359.6 306.9h0M382.2 308.7h0M389.3 311.7h0M336.8 312.8h0M386.9 305.9h0M398.3 308.4h0M365.2 312.2h0M395.1 310.2h0M387.5 313.1h0M353.7 300.0h0M347.5 314.6h0M351.1 309.8h0M342.8 300.9h0M360.4 304.2h0M359.3 302.9h0M381.9 314.1h0M399.7 313.0h0M353.8 306.6h0M373.5 311.5h0M354.3 307.8h0M371.4 310.8h0M373.9 310.5h0M362.6 312.0h0M403.3 312.3h0M343.7 311.2h0M388.0 312.3h0M342.0 309.3h0M366.9 312.2h0M354.5 306.0h0M391.2 303.1h0M370.0 314.6h0M378.9 311.1h0M350.1 304.5h0M337.2 306.5h0M354.2 306.3h0M391.1 314.5h0M380.7 298.2h0M363.2 307.7h0M381.2 313.3h0M354.6 307.0h0M354.8 312.5h0M394.7 313.2h0M338.1 314.6h0M389.3 313.7h0M387.4 310.7h0M396.2 309.1h0M338.1 310.5h0M364.2 314.1h0M357.4 314.1h0M402.6 313.2h0M381.8 299.1h0M364.3 312.1h0M367.0 314.3h0M372.3 313.9h0M363.5 306.8h0M391.3 309.0h0M365.3 303.2h0M396.3 313.4h0M354.9 311.4h0M394.5 309.3h0M354.4 312.5h0M356.6 313.3h0M398.3 313.5h0M340.0 310.0h0M349.0 314.2h0M359.6 298.6h0M351.7 307.0h0M399.8 313.6h0M370.2 314.3h0M359.3 311.1h0M393.9 308.1h0M356.8 313.4h0M368.8 311.6h0M388.6 310.0h0M399.7 312.7h0M338.5 311.8h0M372.2 312.1h0M395.6 313.7h0M371.5 310.4h0M345.5 313.1h0M379.6 313.2h0M382.5 309.3h0M388.8 314.5h0M382.4 309.1h0M393.9 311.2h0M375.7 299.4h0M372.9 312.0h0M382.0 307.1h0M357.3 307.7h0M352.4 310.4h0M337.6 310.6h0M385.4 311.1h0M369.2 303.4h0M350.0 305.1h0M373.7 314.6h0M363.1 312.7h0M387.3 310.4h0M358.3 305.4h0M378.9 310.6h0M375.8 309.3h0M390.9 311.7h0M389.4 314.6h0M348.8 313.8h0M367.1 309.5h0M341.8 312.7h0M354.6 314.4h0M383.3 314.2h0M362.1 313.6h0M383.9 312.1h0M379.0 306.8h0M345.8 313.5h0M361.2 310.8h0M351.1 308.7h0M360.6 309.2h0M348.7 313.1h0M370.4 308.1h0M392.5 311.0h0M373.2 314.5h0M353.0 312.8h0M352.9 306.5h0M365.7 312.2h0M357.4 314.0h0M370.2 314.6h0M403.7 310.1h0M358.9 299.8h0M343.6 299.3h0M372.2 313.9h0M376.5 309.3h0M364.0 314.5h0M362.5 311.5h0M386.5 308.0h0M367.8 314.2h0M389.5 309.1h0M402.2 309.6h0M363.0 308.4h0M377.7 306.3h0M376.4 310.4h0M384.2 308.2h0M389.4 311.8h0M386.3 312.1h0M372.1 303.2h0M397.4 313.9h0M350.8 313.5h0M364.7 314.4h0M391.5 312.3h0M361.9 313.8h0M338.2 307.8h0M346.6 312.2h0M356.7 307.8h0M344.1 313.9h0M383.8 313.6h0M339.3 314.1h0M339.4 313.4h0M387.5 308.5h0M359.0 311.1h0M384.6 314.5h0M373.4 313.4h0M382.8 313.4h0M372.4 312.0h0M383.7 312.2h0M338.8 311.2h0M352.6 306.7h0M368.8 312.6h0M387.4 310.5h0M362.3 314.1h0M368.2 310.1h0M390.0 313.4h0M379.9 299.3h0M347.0 311.1h0M389.3 311.6h0M366.0 312.9h0M357.3 311.9h0M356.5 310.2h0M392.9 302.8h0M341.1 312.9h0M391.2 314.5h0M344.7 312.1h0M389.0 314.4h0M398.4 313.6h0M378.7 312.6h0M380.6 312.7h0M354.5 313.9h0M340.8 314.0h0M403.1 310.8h0M395.5 314.6h0M347.3 313.1h0M360.1 314.5h0M369.8 314.2h0M347.8 311.8h0M375.8 304.6h0M352.7 308.0h0M383.2 308.7h0M349.1 307.7h0M367.2 300.8h0M398.5 314.3h0M396.7 313.0h0M341.5 313.6h0M373.4 311.3h0M379.6 309.4h0M387.6 312.6h0M346.3 311.3h0M360.2 310.6h0M347.2 311.0h0M354.4 313.3h0M338.2 309.6h0M363.6 312.1h0M344.8 305.0h0M391.0 311.3h0M400.8 312.2h0M369.8 313.3h0M355.5 313.0h0M388.7 314.3h0M392.7 309.7h0M348.8 311.6h0M399.3 309.6h0M354.3 310.9h0M393.9 311.2h0M378.7 306.7h0M338.7 308.4h0M337.3 314.0h0M369.5 311.9h0M391.6 314.6h0M385.7 311.0h0M387.9 298.9h0M379.4 308.3h0M388.1 311.2h0M356.6 307.6h0M346.6 307.1h0M398.4 311.1h0M396.4 313.5h0M385.6 311.6h0M340.0 313.9h0M376.6 313.3h0M374.5 304.3h0M362.1 311.2h0M384.5 311.4h0M359.8 305.3h0M359.9 309.4h0M340.3 313.3h0M377.5 312.2h0M366.7 311.3h0M367.0 307.8h0M373.9 309.2h0M358.9 300.7h0M388.1 311.9h0M389.9 313.0h0M346.9 312.8h0M374.2 311.0h0M354.9 313.0h0M384.3 311.4h0M373.5 312.1h0M347.9 313.1h0M382.3 306.3h0M363.9 313.0h0M341.0 310.8h0M403.4 310.2h0M367.9 309.3h0M372.8 314.1h0M383.4 310.6h0M354.7 304.7h0M401.6 314.1h0M396.2 311.1h0M397.1 310.3h0M385.3 310.4h0M400.5 310.0h0M401.9 308.2h0M350.4 312.1h0M367.2 313.6h0M382.9 310.9h0M401.3 311.7h0M337.2 312.2h0M380.7 311.2h0M386.4 313.4h0M397.3 313.6h0M400.5 311.9h0M385.2 310.2h0M395.7 313.6h0M375.5 313.9h0M395.7 313.8h0M397.8 305.4h0M362.6 307.9h0M340.5 310.0h0M373.9 314.1h0M356.3 308.4h0M339.6 314.6h0M361.6 312.8h0M382.9 303.6h0M387.3 304.7h0M387.8 309.0h0M387.5 313.5h0M379.8 310.6h0M366.6 311.5h0M390.3 306.0h0M394.3 313.7h0M340.8 311.0h0M395.7 307.4h0M365.4 312.0h0M349.6 313.2h0M365.9 311.1h0M380.7 309.7h0M388.3 313.6h0M363.9 311.9h0M377.6 313.7h0M389.1 309.4h0M360.0 306.7h0M377.8 311.0h0M337.3 312.4h0M396.9 308.6h0M398.4 311.7h0M375.8 314.4h0M379.5 312.3h0M384.8 312.6h0M355.8 313.6h0M364.6 312.2h0M399.9 312.1h0M374.3 311.3h0M372.3 314.0h0M383.8 308.0h0M376.6 300.0h0M395.0 312.5h0M401.8 296.6h0M382.0 314.1h0M354.5 313.8h0M395.2 307.7h0M358.1 310.5h0M357.3 311.6h0M350.4 313.2h0M399.2 300.8h0M393.4 313.7h0M385.2 308.2h0M372.3 313.3h0M383.6 306.8h0M340.3 302.1h0M361.5 312.8h0M402.8 312.2h0M392.4 298.6h0M388.6 309.7h0M351.0 305.9h0M402.6 310.1h0M366.5 313.8h0M393.9 312.5h0M345.9 311.8h0M380.0 312.5h0M338.4 311.0h0M355.7 306.8h0M378.5 314.5h0M377.3 309.5h0M338.0 314.2h0M370.7 308.7h0M374.2 314.6h0M368.4 314.2h0M351.7 308.9h0M384.9 312.2h0M378.3 313.2h0M383.8 314.4h0M365.6 313.4h0M349.0 307.7h0M363.3 307.2h0M355.4 311.5h0M402.8 313.8h0M350.4 312.4h0M343.6 307.1h0M344.3 312.2h0M402.6 314.5h0M380.4 311.5h0M361.1 313.9h0M393.1 314.4h0M399.7 314.6h0M349.9 299.5h0M348.6 313.1h0M368.5 314.5h0M395.9 311.2h0M348.3 311.6h0M347.3 312.0h0M362.6 314.5h0M342.1 306.4h0M393.0 297.7h0M357.3 310.4h0M346.6 307.8h0M392.4 311.2h0M387.9 311.1h0M394.4 313.7h0M358.9 313.9h0M398.2 310.5h0M355.4 314.1h0M353.2 307.8h0M348.7 312.3h0M362.0 307.5h0M358.1 304.6h0M384.7 314.3h0M354.4 309.9h0M399.2 304.4h0M381.5 300.6h0M354.7 300.4h0M368.3 296.0h0M382.3 301.5h0M402.5 296.3h0M400.0 300.1h0M357.8 303.5h0M361.4 304.5h0M353.1 304.1h0M384.9 305.5h0M346.9 303.4h0M393.5 299.2h0M368.4 303.5h0M372.5 303.8h0M398.7 300.9h0M401.2 304.1h0M367.4 301.5h0M352.6 297.3h0M397.8 302.2h0M394.4 297.5h0M379.9 302.4h0M353.1 298.8h0M369.3 298.4h0M400.1 301.7h0M355.0 305.9h0M339.8 296.1h0M356.6 300.3h0M339.9 304.6h0M361.2 304.4h0M381.1 305.1h0M379.3 310.1h0M380.2 309.1h0M380.4 304.1h0M380.7 305.6h0M392.2 311.0h0M392.3 308.0h0M392.0 308.9h0M361.1 309.1h0M361.0 308.1h0M361.7 307.9h0M349.5 307.1h0M349.1 298.5h0M348.7 298.5h0M349.1 300.0h0M349.0 301.6h0M350.0 298.0h0M371.9 306.8h0M372.8 307.4h0M372.6 301.8h0M372.2 306.3h0M372.4 300.8h0M390.7 311.3h0M397.4 304.7h0M397.1 310.9h0M397.1 302.7h0M397.3 305.0h0M389.4 307.3h0M388.5 312.0h0M390.3 304.9h0M389.0 306.9h0M378.3 310.0h0M379.1 312.3h0M381.9 304.2h0M381.2 304.9h0M381.9 301.9h0M382.1 302.2h0M382.3 302.9h0M381.2 310.4h0M381.7 306.6h0M381.3 309.3h0M366.3 311.5h0M366.3 305.1h0M365.6 308.1h0M365.7 310.6h0M396.4 311.0h0M352.7 305.6h0M352.0 307.5h0M352.5 309.8h0M351.4 304.2h0M358.4 308.3h0M358.7 308.3h0M401.9 312.1h0M343.0 310.0h0M342.6 309.2h0M343.1 307.7h0M342.7 309.4h0M342.8 302.6h0M369.2 307.7h0M369.2 310.0h0M369.3 310.0h0M367.7 309.7h0M360.4 311.1h0M361.5 310.7h0M373.2 311.1h0M373.8 310.7h0M494.8 310.7h0M482.8 308.5h0M488.7 309.6h0M491.1 311.5h0M484.0 308.7h0M487.0 313.4h0M458.0 300.5h0M483.1 311.9h0M487.8 307.0h0M474.3 312.9h0M494.3 308.3h0M456.2 314.1h0M457.0 305.6h0M470.1 314.2h0M492.2 314.6h0M458.6 314.5h0M471.3 311.4h0M490.0 308.2h0M493.1 314.6h0M470.3 314.3h0M462.4 313.4h0M487.5 314.3h0M469.3 312.8h0M471.1 304.3h0M461.1 313.9h0M458.0 312.6h0M470.2 309.6h0M473.1 309.4h0M495.1 314.4h0M478.9 308.2h0M481.4 314.0h0M483.9 311.1h0M482.1 314.4h0M487.6 300.7h0M463.4 309.6h0M482.8 310.0h0M491.6 313.3h0M458.2 313.1h0M491.7 311.7h0M465.9 309.0h0M491.1 312.3h0M473.5 301.8h0M466.6 311.5h0M491.0 309.4h0M488.3 312.7h0M483.1 311.4h0M480.9 308.6h0M494.0 313.8h0M463.9 314.4h0M482.4 314.1h0M494.5 311.8h0M459.1 313.8h0M467.9 314.6h0M469.9 306.9h0M467.3 311.2h0M484.7 313.1h0M477.7 314.6h0M468.1 301.4h0M481.3 311.5h0M463.3 313.1h0M455.7 305.9h0M474.6 313.4h0M457.3 314.3h0M487.6 305.1h0M493.6 311.2h0M484.9 306.6h0M484.7 312.5h0M469.4 312.7h0M455.6 313.7h0M486.5 307.3h0M472.2 306.1h0M479.5 309.0h0M473.5 313.2h0M488.3 314.1h0M457.3 308.9h0M483.7 309.0h0M494.8 314.4h0M470.3 311.5h0M486.1 314.6h0M464.1 308.6h0M471.7 314.3h0M468.4 307.3h0M482.9 310.5h0M478.7 313.7h0M487.5 313.9h0M491.3 311.6h0M471.6 312.0h0M473.2 311.9h0M467.5 307.5h0M481.4 314.6h0M461.7 313.9h0M474.4 312.7h0M491.9 313.4h0M492.0 312.9h0M456.2 313.1h0M471.5 306.2h0M480.2 314.5h0M471.6 307.5h0M495.1 309.3h0M480.3 313.2h0M488.8 313.0h0M482.5 314.2h0M485.4 311.1h0M483.8 311.2h0M490.0 314.1h0M483.0 311.1h0M475.6 308.0h0M484.2 305.4h0M459.2 313.3h0M491.4 308.6h0M468.4 312.7h0M493.4 309.4h0M458.7 310.2h0M474.9 311.4h0M481.2 313.6h0M472.3 310.8h0M460.3 310.3h0M469.5 303.5h0M490.8 312.7h0M495.0 310.6h0M485.2 307.5h0M483.3 299.2h0M477.8 314.4h0M476.8 311.6h0M494.7 296.6h0M488.5 308.7h0M473.5 314.6h0M465.1 311.7h0M456.7 302.8h0M495.0 306.1h0M456.7 312.7h0M459.7 312.0h0M476.4 300.6h0M484.0 313.7h0M477.6 311.3h0M494.0 313.5h0M490.9 304.9h0M493.0 306.5h0M486.5 313.4h0M463.8 312.3h0M475.9 308.8h0M476.4 313.3h0M478.7 312.3h0M486.1 308.0h0M469.9 313.1h0M493.5 313.5h0M464.7 296.2h0M476.2 312.5h0M481.1 314.1h0M464.0 309.7h0M482.4 313.0h0M460.5 301.3h0M490.1 308.7h0M495.1 308.4h0M463.2 313.3h0M473.8 298.7h0M476.8 309.3h0M456.5 310.6h0M459.1 314.3h0M458.6 305.4h0M460.8 312.5h0M482.2 310.0h0M485.1 307.2h0M463.2 307.9h0M494.1 311.9h0M488.4 312.0h0M468.1 311.0h0M457.9 302.8h0M485.9 309.9h0M458.0 306.4h0M468.0 310.2h0M457.5 309.6h0M475.1 311.7h0M466.8 313.2h0M478.4 308.5h0M473.7 312.4h0M479.4 310.1h0M492.8 309.3h0M461.1 297.2h0M478.4 311.6h0M466.1 314.0h0M471.4 313.7h0M458.8 312.8h0M485.5 309.0h0M462.0 313.5h0M484.6 312.8h0M483.7 314.1h0M466.0 301.0h0M479.0 313.4h0M463.4 306.0h0M472.5 314.4h0M460.6 312.3h0M458.1 307.1h0M466.2 309.7h0M470.8 314.1h0M469.7 312.3h0M474.2 310.0h0M463.5 312.9h0M489.3 310.4h0M465.5 306.0h0M469.4 309.4h0M458.2 309.9h0M472.3 307.9h0M490.8 308.2h0M489.0 314.0h0M464.7 300.2h0M490.1 309.7h0M481.9 314.4h0M474.7 312.9h0M471.5 313.8h0M466.6 304.2h0M461.0 312.2h0M463.7 312.5h0M472.1 312.6h0M480.3 311.2h0M456.3 310.2h0M495.1 311.5h0M481.3 305.4h0M468.7 309.2h0M465.0 314.5h0M471.3 301.9h0M467.5 311.6h0M477.5 314.6h0M487.7 314.3h0M460.2 310.7h0M457.7 313.5h0M467.2 313.8h0M471.5 312.4h0M493.1 314.4h0M495.1 312.2h0M482.4 313.7h0M471.4 305.4h0M466.1 308.3h0M462.5 309.0h0M492.4 305.9h0M465.9 313.1h0M468.7 308.8h0M471.5 310.4h0M480.3 302.3h0M476.5 305.1h0M487.6 310.7h0M485.4 305.8h0M480.8 312.0h0M463.7 308.5h0M480.1 314.1h0M484.7 313.3h0M482.9 314.6h0M456.3 314.4h0M469.4 313.8h0M479.4 314.0h0M480.0 305.4h0M491.2 313.6h0M471.8 297.6h0M479.8 299.2h0M456.9 314.6h0M494.4 313.8h0M491.1 313.7h0M492.7 308.5h0M486.8 304.6h0M469.2 305.8h0M486.6 304.0h0M461.2 303.4h0M463.1 305.3h0M476.5 303.6h0M494.2 305.9h0M466.1 301.7h0M495.3 301.5h0M458.5 305.2h0M478.6 304.6h0M459.8 302.3h0M493.2 300.4h0M463.5 300.8h0M480.1 301.8h0M468.3 301.1h0M472.9 302.2h0M461.4 299.7h0M492.5 300.2h0M465.9 303.4h0M465.6 310.1h0M466.0 310.5h0M465.3 311.4h0M464.6 310.5h0M457.0 310.9h0M480.7 311.5h0M480.7 310.7h0M476.5 310.5h0M476.5 311.2h0M463.3 308.4h0M462.6 308.8h0M483.8 311.0h0M484.4 311.7h0M479.8 308.7h0M479.0 308.7h0M478.6 309.2h0M464.7 303.6h0M464.3 306.6h0M463.9 302.1h0M464.9 310.5h0M463.4 300.7h0M463.9 310.3h0M472.2 311.1h0M471.6 310.6h0M472.4 308.8h0M472.1 305.6h0M471.5 306.3h0M484.8 308.2h0M483.7 306.1h0M484.6 307.3h0M485.0 305.9h0M479.9 308.5h0M479.6 309.0h0M480.5 306.3h0M536.0 304.7h0M538.2 304.6h0M529.6 311.0h0M536.9 314.0h0M533.8 312.3h0M530.1 313.5h0M530.4 314.5h0M531.4 314.1h0M534.4 297.5h0M525.7 312.7h0M534.2 314.2h0M539.3 314.6h0M533.7 313.2h0M535.1 313.5h0M537.8 308.7h0M532.1 307.8h0M529.9 306.9h0M525.3 314.2h0M530.1 314.1h0M537.8 311.8h0M538.2 307.4h0M525.0 313.7h0M530.6 310.9h0M537.3 310.0h0M534.2 308.7h0M535.6 314.5h0M537.3 314.4h0M528.9 312.9h0M538.5 312.3h0M535.7 313.0h0M532.0 314.2h0M526.1 314.3h0M539.2 313.2h0M524.2 307.3h0M532.3 303.0h0M533.4 314.6h0M533.1 312.5h0M528.9 314.0h0M535.2 311.2h0M537.3 313.7h0M524.4 312.5h0M526.4 312.6h0M535.7 310.5h0M528.5 312.7h0M534.8 310.3h0M534.4 311.0h0M526.7 307.8h0M535.9 301.5h0M525.3 311.3h0M533.4 312.9h0M527.3 310.5h0M524.9 308.0h0M527.9 303.1h0M533.0 303.5h0M527.3 313.8h0M525.0 313.2h0M531.9 312.3h0M529.4 314.2h0M536.3 309.6h0M525.0 307.8h0M529.2 312.5h0M538.9 313.1h0M533.9 310.7h0M529.6 313.3h0M534.4 305.0h0M532.9 306.7h0M538.6 314.4h0M527.5 313.9h0M533.6 312.3h0M531.8 310.4h0M525.3 309.0h0M528.9 313.6h0M531.8 308.2h0M535.0 313.5h0M536.3 312.8h0M524.5 313.8h0M526.3 307.6h0M533.3 305.7h0M525.1 311.9h0M524.5 307.5h0M529.4 310.2h0M525.5 310.0h0M530.6 311.3h0M524.4 314.4h0M532.5 313.5h0M525.8 314.5h0M533.0 313.9h0M527.0 301.3h0M526.2 311.5h0M526.8 313.6h0M532.3 309.8h0M534.3 303.2h0M538.6 314.3h0M536.7 312.4h0M531.4 298.1h0M535.9 307.4h0M533.7 314.4h0M536.8 307.4h0M532.2 314.5h0M538.3 312.0h0M530.8 304.1h0M528.0 302.3h0M535.0 304.9h0M533.1 304.1h0M527.2 303.6h0M539.3 300.9h0M537.1 308.6h0M537.1 312.2h0M538.3 309.4h0M524.7 309.8h0M525.2 308.5h0M528.9 311.4h0M537.4 310.7h0M536.8 311.3h0M537.3 308.3h0M525.7 307.6h0M524.7 310.5h0M525.7 307.7h0M562.2 313.1h0M565.9 306.6h0M557.4 305.0h0M561.9 296.3h0M566.2 299.7h0M562.8 311.4h0M567.8 304.8h0M568.7 312.4h0M559.0 309.6h0M562.9 312.5h0M564.3 314.6h0M568.2 313.0h0M557.7 313.0h0M564.9 306.5h0M562.7 311.7h0M560.6 311.2h0M558.9 303.7h0M557.5 310.5h0M560.3 303.0h0M566.6 313.6h0M561.4 314.1h0M560.9 314.4h0M567.3 314.1h0M561.7 313.5h0M558.0 305.8h0M557.4 309.2h0M559.1 304.9h0M561.2 306.1h0M565.9 309.0h0M559.5 312.3h0M564.3 311.5h0M557.9 314.4h0M557.7 307.5h0M559.5 313.6h0M557.3 308.0h0M558.2 309.4h0M562.4 313.7h0M563.3 310.2h0M565.7 313.4h0M569.2 311.5h0M562.8 313.6h0M567.8 308.2h0M566.9 312.9h0M559.6 313.3h0M569.2 309.4h0M557.6 306.3h0M566.4 312.1h0M567.0 307.7h0M558.2 314.6h0M560.1 311.3h0M565.5 310.0h0M557.3 312.0h0M564.0 312.4h0M559.0 311.4h0M563.6 309.4h0M563.8 310.1h0M567.5 313.3h0M557.9 311.9h0M567.1 313.2h0M566.0 312.1h0M562.8 313.5h0M563.2 312.3h0M567.5 308.9h0M557.4 311.8h0M568.3 304.1h0M562.1 308.1h0M568.4 304.9h0M564.5 312.2h0M559.7 313.7h0M560.8 311.8h0M557.2 314.0h0M558.2 305.1h0M558.3 312.7h0M566.0 312.3h0M563.3 313.2h0M568.0 314.4h0M564.0 298.2h0M562.6 313.4h0M557.5 311.9h0M558.3 314.2h0M567.6 308.9h0M561.4 312.3h0M565.3 302.7h0M568.1 304.5h0M568.0 304.6h0M562.1 300.9h0M561.1 303.3h0M557.2 309.8h0M557.1 308.7h0M557.8 307.9h0M563.9 310.9h0M563.6 307.9h0M565.0 307.0h0M567.3 303.6h0M566.9 311.3h0M567.0 306.9h0M567.4 310.6h0M567.4 302.6h0M558.7 311.4h0M583.1 296.2h0M585.3 313.0h0M584.3 311.2h0M584.7 305.4h0M588.3 306.9h0M582.5 313.0h0M585.4 309.3h0M587.7 313.2h0M582.8 310.9h0M588.4 301.0h0M584.6 314.2h0M588.0 309.3h0M584.8 303.6h0M588.0 314.3h0M582.1 310.5h0M587.7 312.0h0M586.8 309.6h0M587.7 298.1h0M585.3 305.5h0M586.8 308.3h0M588.5 299.3h0M583.4 305.9h0M585.1 313.1h0M587.3 308.7h0M582.6 311.3h0M586.8 297.6h0M584.4 298.5h0M584.1 308.8h0M582.4 305.2h0M581.8 313.8h0M589.0 305.1h0M589.4 310.7h0M584.7 303.1h0M584.2 310.3h0M588.3 307.6h0M585.5 311.7h0M585.9 310.5h0M585.8 311.7h0M584.9 312.2h0M589.0 313.7h0M586.8 312.1h0M583.3 312.4h0M586.8 301.6h0M586.1 305.8h0M582.4 313.5h0M582.9 305.1h0M585.5 306.1h0M584.8 312.6h0M588.9 305.1h0M586.7 312.7h0M586.4 312.6h0M588.5 312.8h0M585.4 314.4h0M587.4 312.4h0M582.4 314.1h0M587.1 311.9h0M586.0 314.2h0M587.4 312.4h0M582.6 297.5h0M585.8 303.0h0M583.5 308.5h0M588.4 313.4h0M588.8 308.1h0M588.4 310.4h0M586.7 302.4h0M586.3 312.5h0M583.2 302.7h0M588.5 303.7h0M588.5 304.7h0M582.9 300.1h0M586.1 309.3h0M585.8 307.7h0M589.0 298.4h0M589.5 304.4h0M589.9 305.0h0M589.0 302.2h0M589.6 299.3h0M589.0 306.3h0M585.3 310.4h0M585.1 309.8h0M604.6 313.5h0M605.0 313.8h0M607.5 312.2h0M601.1 312.7h0M607.2 300.9h0M603.4 312.5h0M604.5 312.3h0M602.6 312.7h0M606.2 310.0h0M600.8 311.5h0M606.1 311.0h0M605.4 313.9h0M601.4 302.1h0M602.2 312.7h0M600.9 310.8h0M602.7 305.6h0M604.7 307.7h0M607.7 306.6h0M603.3 313.0h0M606.0 302.8h0M603.0 309.7h0M599.9 312.2h0M607.9 311.9h0M607.3 307.4h0M608.0 307.7h0M607.6 297.7h0M602.4 314.3h0M602.9 311.6h0M600.1 302.6h0M600.8 314.0h0M607.7 307.2h0M605.0 314.3h0M607.5 313.9h0M605.3 302.5h0M606.3 300.7h0M603.7 308.7h0M601.4 314.1h0M600.4 307.4h0M601.9 310.6h0M604.4 302.6h0M600.0 304.7h0M600.1 314.4h0M607.4 298.9h0M604.4 304.1h0M608.0 314.3h0M603.3 314.2h0M602.8 299.9h0M607.4 314.5h0M605.0 313.1h0M602.7 312.5h0M605.7 307.0h0M607.3 310.4h0M603.7 311.4h0M606.5 310.6h0M603.8 311.0h0M601.5 309.9h0M601.5 301.3h0M605.7 313.3h0M605.4 310.9h0M604.3 313.7h0M601.8 301.6h0M605.8 308.8h0M606.8 308.9h0M605.5 311.5h0M605.6 310.3h0M602.4 305.2h0M606.1 311.0h0M604.1 313.1h0M604.3 306.3h0M604.3 306.1h0M605.0 308.4h0M604.8 303.4h0M604.5 304.8h0M601.1 305.5h0M606.9 302.1h0M606.2 297.7h0M603.6 310.5h0M603.7 311.3h0M605.9 312.2h0M607.2 311.0h0M605.1 311.9h0M604.2 311.4h0M604.6 308.3h0M603.8 306.2h0M621.3 308.8h0M619.0 313.8h0M621.4 313.8h0M620.0 309.7h0M621.5 310.6h0M618.7 314.3h0M619.1 314.6h0M619.6 312.9h0M620.2 298.7h0M619.2 308.3h0M621.5 310.8h0M619.2 314.0h0M618.2 313.0h0M620.8 310.1h0M618.2 309.0h0M620.7 313.3h0M618.9 314.4h0M618.1 313.4h0M622.0 314.1h0M621.5 313.1h0M618.3 306.5h0M622.5 299.7h0M619.6 309.8h0M620.0 312.7h0M622.9 306.2h0M617.9 314.1h0M621.8 310.1h0M620.3 311.9h0M621.2 313.6h0M622.7 312.7h0M617.5 313.5h0M620.6 302.3h0M620.3 312.9h0M619.1 309.7h0M623.2 296.4h0M618.3 313.5h0M620.8 307.8h0M620.4 313.8h0M618.2 309.8h0M620.1 313.2h0M619.6 314.0h0M617.9 305.4h0M617.7 303.5h0M621.5 303.6h0M617.8 311.4h0M621.1 313.1h0M623.0 310.1h0M620.3 313.2h0M620.4 306.5h0M617.6 313.5h0M621.8 312.9h0M619.2 313.9h0M621.9 305.4h0M622.5 304.8h0M618.8 305.7h0M620.9 303.0h0M619.7 312.0h0M622.3 312.3h0M622.4 312.5h0M621.7 303.6h0M621.2 297.8h0M623.8 309.6h0M622.0 299.8h0M630.0 312.1h0M630.0 314.6h0M629.9 305.7h0M629.9 312.1h0M629.9 310.9h0M630.0 303.5h0M639.2 309.1h0M636.0 302.3h0M637.0 303.5h0M635.9 312.4h0M639.0 310.5h0M637.7 314.0h0M638.1 309.3h0M636.5 314.4h0M637.1 309.5h0M637.2 312.5h0M638.3 312.2h0M637.8 312.3h0M637.5 313.4h0M637.7 313.4h0M638.5 307.0h0M635.8 313.7h0M638.1 312.7h0M639.2 313.5h0M639.2 311.8h0M636.9 308.4h0M635.7 312.4h0M636.8 313.3h0M636.9 308.6h0M635.6 309.6h0M638.8 311.1h0M637.7 310.0h0M635.7 311.2h0M637.5 313.6h0M638.3 308.8h0M637.7 314.0h0M638.9 307.9h0M635.8 311.2h0M637.6 312.4h0M636.2 305.7h0M638.9 312.9h0M635.6 308.0h0M637.5 305.0h0M637.2 304.1h0M638.8 304.4h0M637.8 305.0h0M638.0 311.0h0M649.3 312.6h0M646.7 309.3h0M647.5 313.8h0M647.7 312.6h0M647.0 309.4h0M647.6 309.3h0M648.1 309.9h0M648.4 304.9h0M648.9 312.9h0M647.0 312.4h0M645.5 312.1h0M646.8 312.7h0M646.8 303.5h0M645.9 309.7h0M649.5 313.4h0M645.6 313.4h0M648.4 299.6h0M649.9 306.0h0M648.6 308.9h0M646.1 308.6h0M649.5 311.5h0M646.7 314.0h0M648.3 311.4h0M646.6 300.0h0M645.6 312.0h0M645.9 309.4h0M649.5 310.9h0M648.3 314.0h0M647.5 310.4h0M648.3 307.1h0M649.9 311.7h0M647.3 308.0h0M645.6 314.1h0M649.5 310.3h0M648.9 309.6h0M647.1 306.0h0M646.9 306.7h0M648.5 311.1h0M649.7 309.0h0M649.5 308.9h0M650.2 310.4h0M646.8 314.4h0M649.5 303.8h0M646.4 312.1h0M650.2 314.0h0M647.1 304.6h0M650.1 302.4h0M649.6 307.7h0M647.7 309.9h0M648.3 306.3h0M648.1 311.8h0M655.1 308.9h0M654.5 305.6h0M654.9 311.8h0M655.2 308.5h0M655.2 302.9h0M654.6 313.5h0M655.0 309.5h0M654.5 308.0h0M655.4 310.3h0M655.4 306.1h0M655.2 309.7h0M654.6 314.3h0M655.1 311.1h0M654.8 302.0h0M655.2 311.2h0M655.0 311.1h0M655.5 305.6h0M655.0 302.3h0M654.7 304.2h0M655.0 308.9h0M655.0 307.7h0M654.3 305.9h0M659.4 312.1h0M659.5 314.4h0M659.9 310.3h0M660.0 304.2h0M659.1 311.9h0M659.5 311.9h0M660.1 305.8h0M659.9 312.5h0M660.1 314.5h0M660.4 303.8h0M659.3 302.8h0M659.9 305.5h0M659.4 314.6h0M659.6 307.9h0M659.6 313.1h0M660.2 312.0h0M660.3 311.8h0M659.8 308.2h0M660.2 313.1h0M659.2 304.0h0M659.0 304.8h0M659.5 302.6h0M659.8 306.2h0M659.4 302.8h0M659.1 311.1h0M659.9 301.7h0M660.7 302.7h0M664.7 309.5h0M664.8 307.4h0M664.9 308.3h0M665.0 310.9h0M665.0 314.5h0M665.0 310.9h0M664.5 311.6h0M664.1 313.2h0M665.2 308.7h0M664.9 311.1h0M663.9 313.5h0M664.2 305.9h0M663.8 313.9h0M665.2 308.0h0M664.5 314.3h0M665.2 311.5h0M665.2 314.0h0M664.0 304.5h0M664.1 297.5h0M665.0 310.5h0M664.7 307.1h0M665.3 305.5h0M664.8 302.9h0M665.9 307.5h0M664.1 309.7h0M665.1 311.1h0M671.8 312.5h0M669.9 313.4h0M670.4 314.3h0M669.4 311.8h0M672.0 312.3h0M670.6 314.6h0M671.0 314.3h0M671.9 310.8h0M669.5 304.0h0M671.8 314.1h0M670.8 310.2h0M670.4 309.2h0M670.9 307.8h0M670.1 309.3h0M671.0 307.9h0M671.9 313.3h0M669.7 306.2h0M670.4 296.9h0M670.8 313.9h0M672.1 312.5h0M672.1 314.3h0M670.6 309.5h0M670.9 311.5h0M669.9 314.2h0M671.1 299.3h0M670.0 311.2h0M670.0 311.8h0M670.3 296.8h0M670.6 313.4h0M670.5 298.6h0M671.6 312.3h0M669.5 309.5h0M670.3 302.6h0M669.6 303.4h0M669.3 312.3h0M361.8 237.5h0M342.0 257.5h0M348.9 274.5h0M354.0 285.6h0M355.1 289.5h0M349.3 292.9h0M362.7 291.0h0M366.0 289.2h0M377.3 292.7h0M395.1 282.2h0M398.1 280.0h0M463.6 281.4h0M476.4 285.4h0M475.7 292.6h0M461.4 294.6h0M471.4 294.6h0M476.7 285.4h0M481.0 297.4h0M490.2 198.2h0M490.6 221.2h0M490.6 228.3h0M489.9 239.6h0M490.4 241.2h0M489.9 243.5h0M490.4 246.9h0M491.3 256.3h0M534.8 286.0h0M533.1 288.0h0M559.3 288.5h0M569.6 288.4h0M564.5 293.2h0M558.1 295.2h0M526.4 295.2h0M600.4 291.1h0M603.0 296.3h0M620.2 292.3h0M631.3 292.8h0M638.2 294.5h0M650.7 294.5h0M660.5 294.5h0M669.9 292.8h0M490.8 261.3h0M488.0 286.7h0M489.3 293.8h0M489.4 269.0h0M491.8 295.9h0M489.8 292.1h0M491.3 271.9h0M488.9 281.9h0M488.9 269.4h0M491.0 282.1h0M488.2 282.2h0M491.1 279.1h0M488.3 271.8h0M490.8 287.1h0M489.1 280.4h0M488.4 274.8h0M490.3 290.2h0M490.4 278.5h0M489.2 294.1h0M489.5 277.7h0M491.0 274.0h0M488.4 281.8h0M490.4 290.2h0M490.7 289.0h0M488.5 293.9h0M490.3 262.7h0M488.2 292.3h0M489.4 281.0h0M489.5 279.9h0M490.2 283.9h0M490.0 287.3h0M488.5 286.3h0M491.8 295.2h0M488.7 277.1h0M488.6 267.0h0M488.2 289.5h0M487.8 295.9h0M490.3 296.8h0M489.0 294.8h0M489.9 295.4h0M491.9 297.9h0M489.8 279.4h0M491.7 299.4h0M488.6 296.0h0M490.1 269.2h0M488.3 283.0h0M487.9 296.2h0M490.3 277.4h0M488.3 276.5h0M490.2 275.5h0M489.8 268.9h0M491.3 279.0h0M488.8 290.6h0M490.0 262.3h0M488.8 289.6h0M489.1 294.5h0M488.6 297.1h0M488.3 303.2h0M486.8 294.3h0M493.2 303.6h0M491.0 300.5h0M493.1 301.2h0M487.2 300.8h0M491.4 289.1h0M489.8 301.7h0M486.4 298.9h0M490.8 298.4h0M492.9 298.3h0M488.2 299.4h0M491.0 297.0h0M488.9 291.2h0M490.1 302.8h0M489.7 292.1h0M486.8 298.5h0M492.2 295.2h0M487.2 303.2h0M489.3 288.6h0M489.8 292.3h0M491.7 295.2h0M487.4 300.9h0M482.6 297.3h0M487.8 292.5h0M482.2 292.8h0M485.7 301.2h0M483.8 293.6h0M489.3 300.2h0M481.9 291.8h0M489.4 299.3h0M487.8 302.0h0M489.2 299.4h0M482.2 296.8h0M487.4 290.5h0M488.9 305.4h0M490.8 305.2h0M484.9 298.0h0M481.6 294.6h0M483.7 296.4h0M482.2 298.8h0M480.8 298.4h0M481.4 293.2h0M483.2 295.9h0M487.2 299.2h0M482.5 293.8h0M482.1 305.0h0M487.5 304.5h0M342.0 305.9h0M336.5 309.9h0M339.1 305.3h0M338.4 299.5h0M338.3 307.7h0M338.5 304.0h0M339.5 300.8h0M339.7 300.1h0M340.9 308.7h0M343.0 305.8h0M340.5 303.7h0M340.5 308.1h0M342.3 302.7h0M342.3 308.6h0M341.1 302.2h0M340.7 303.3h0M340.5 306.7h0M339.4 307.2h0M342.2 301.5h0M341.2 307.2h0" fill="none" stroke="#CD8500" stroke-width="2.85" stroke-linecap="round"/>
<line x1="234.5" y1="249.55" x2="685" y2="249.55" stroke="#e05858" stroke-width="1.2"/>
<line x1="234.5" y1="267.3" x2="685" y2="267.3" stroke="#70e070" stroke-width="1.2"/>
<line x1="234.5" y1="194.9" x2="234.5" y2="328.7" stroke="#a0a0a0" stroke-width="1"/>
<line x1="231.8" y1="328.7" x2="234.5" y2="328.7" stroke="#808080" stroke-width="1"/>
<text x="229.4" y="331.9" font-size="9" text-anchor="end">0</text>
<line x1="231.8" y1="301.9" x2="234.5" y2="301.9" stroke="#808080" stroke-width="1"/>
<text x="229.4" y="305.2" font-size="9" text-anchor="end">2</text>
<line x1="231.8" y1="275.2" x2="234.5" y2="275.2" stroke="#808080" stroke-width="1"/>
<text x="229.4" y="278.4" font-size="9" text-anchor="end">4</text>
<line x1="231.8" y1="248.4" x2="234.5" y2="248.4" stroke="#808080" stroke-width="1"/>
<text x="229.4" y="251.7" font-size="9" text-anchor="end">6</text>
<line x1="231.8" y1="221.7" x2="234.5" y2="221.7" stroke="#808080" stroke-width="1"/>
<text x="229.4" y="224.9" font-size="9" text-anchor="end">8</text>
<line x1="231.8" y1="194.9" x2="234.5" y2="194.9" stroke="#808080" stroke-width="1"/>
<text x="229.4" y="198.1" font-size="9" text-anchor="end">10</text>
<g transform="translate(215.30 281.34) rotate(-90)"><text x="0.00" y="0.00" font-size="9">−</text><text x="6.54" y="0.00" font-size="9">log</text><text x="18.67" y="1.40" font-size="6.2">10</text><text x="25.48" y="0.00" font-size="9">(</text><text x="28.96" y="0.00" font-size="9">p</text><text x="35.59" y="0.00" font-size="9">)</text></g>
<line x1="291.2" y1="329.1" x2="291.2" y2="331.8" stroke="#999" stroke-width="0.9"/>
<text x="291.2" y="339.2" font-size="9" text-anchor="middle">1</text>
<line x1="369.1" y1="329.1" x2="369.1" y2="331.8" stroke="#999" stroke-width="0.9"/>
<text x="369.1" y="339.2" font-size="9" text-anchor="middle">2</text>
<line x1="429.3" y1="329.1" x2="429.3" y2="331.8" stroke="#999" stroke-width="0.9"/>
<text x="429.3" y="339.2" font-size="9" text-anchor="middle">3</text>
<line x1="477.3" y1="329.1" x2="477.3" y2="331.8" stroke="#999" stroke-width="0.9"/>
<text x="477.3" y="339.2" font-size="9" text-anchor="middle">4</text>
<line x1="510.2" y1="329.1" x2="510.2" y2="331.8" stroke="#999" stroke-width="0.9"/>
<text x="510.2" y="339.2" font-size="9" text-anchor="middle">5</text>
<line x1="532.8" y1="329.1" x2="532.8" y2="331.8" stroke="#999" stroke-width="0.9"/>
<text x="532.8" y="339.2" font-size="9" text-anchor="middle">6</text>
<line x1="549.2" y1="329.1" x2="549.2" y2="331.8" stroke="#999" stroke-width="0.9"/>
<text x="549.2" y="339.2" font-size="9" text-anchor="middle">7</text>
<line x1="564.4" y1="329.1" x2="564.4" y2="331.8" stroke="#999" stroke-width="0.9"/>
<text x="564.4" y="339.2" font-size="9" text-anchor="middle">8</text>
<line x1="576.4" y1="329.1" x2="576.4" y2="331.8" stroke="#999" stroke-width="0.9"/>
<line x1="586.4" y1="329.1" x2="586.4" y2="331.8" stroke="#999" stroke-width="0.9"/>
<text x="586.4" y="339.2" font-size="9" text-anchor="middle">10</text>
<line x1="595.4" y1="329.1" x2="595.4" y2="331.8" stroke="#999" stroke-width="0.9"/>
<line x1="604.5" y1="329.1" x2="604.5" y2="331.8" stroke="#999" stroke-width="0.9"/>
<text x="604.5" y="339.2" font-size="9" text-anchor="middle">12</text>
<line x1="613.8" y1="329.1" x2="613.8" y2="331.8" stroke="#999" stroke-width="0.9"/>
<line x1="620.5" y1="329.1" x2="620.5" y2="331.8" stroke="#999" stroke-width="0.9"/>
<line x1="627.8" y1="329.1" x2="627.8" y2="331.8" stroke="#999" stroke-width="0.9"/>
<text x="627.8" y="339.2" font-size="9" text-anchor="middle">15</text>
<line x1="631.6" y1="329.1" x2="631.6" y2="331.8" stroke="#999" stroke-width="0.9"/>
<line x1="633.5" y1="329.1" x2="633.5" y2="331.8" stroke="#999" stroke-width="0.9"/>
<line x1="638.6" y1="329.1" x2="638.6" y2="331.8" stroke="#999" stroke-width="0.9"/>
<line x1="643.5" y1="329.1" x2="643.5" y2="331.8" stroke="#999" stroke-width="0.9"/>
<line x1="648.6" y1="329.1" x2="648.6" y2="331.8" stroke="#999" stroke-width="0.9"/>
<text x="648.6" y="339.2" font-size="9" text-anchor="middle">20</text>
<line x1="653.4" y1="329.1" x2="653.4" y2="331.8" stroke="#999" stroke-width="0.9"/>
<line x1="656.4" y1="329.1" x2="656.4" y2="331.8" stroke="#999" stroke-width="0.9"/>
<line x1="658.7" y1="329.1" x2="658.7" y2="331.8" stroke="#999" stroke-width="0.9"/>
<line x1="661.0" y1="329.1" x2="661.0" y2="331.8" stroke="#999" stroke-width="0.9"/>
<line x1="663.1" y1="329.1" x2="663.1" y2="331.8" stroke="#999" stroke-width="0.9"/>
<line x1="665.7" y1="329.1" x2="665.7" y2="331.8" stroke="#999" stroke-width="0.9"/>
<line x1="667.7" y1="329.1" x2="667.7" y2="331.8" stroke="#999" stroke-width="0.9"/>
<text x="667.7" y="339.2" font-size="9" text-anchor="middle">27</text>
<line x1="670.1" y1="329.1" x2="670.1" y2="331.8" stroke="#999" stroke-width="0.9"/>
<text x="459.2" y="349.8" font-size="9" text-anchor="middle">Chromosome</text>
</svg></body></html>
